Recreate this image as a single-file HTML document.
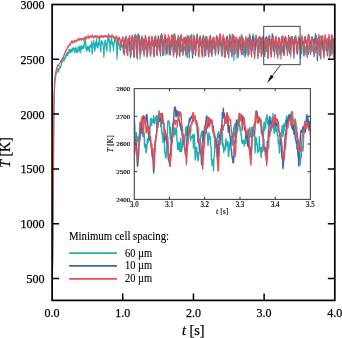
<!DOCTYPE html><html><head><meta charset="utf-8"><style>
html,body{margin:0;padding:0;background:#fff;width:342px;height:338px;overflow:hidden}
svg{display:block;will-change:transform}
text{font-family:"Liberation Serif", serif;fill:#000;stroke:#000;stroke-width:0.25px}
</style></head><body>
<svg width="342" height="338" viewBox="0 0 342 338">
<defs><clipPath id="cm"><rect x="52.1" y="4.5" width="282.7" height="295.9"/></clipPath>
<clipPath id="ci"><rect x="134.3" y="88.6" width="176.09999999999997" height="110.80000000000001"/></clipPath></defs>

<g clip-path="url(#cm)" fill="none" stroke-width="1.15" stroke-linejoin="round">
<path d="M52.1,300.4 52.2,291.0 52.4,281.6 52.5,272.2 52.7,262.8 52.8,253.4 52.9,244.0 53.1,234.6 53.2,212.7 53.4,190.8 53.5,168.9 53.7,151.4 53.8,133.9 53.9,119.7 54.1,108.8 54.2,97.8 54.4,94.7 54.5,91.6 54.6,88.7 54.8,85.4 54.9,82.4 55.1,81.3 55.2,80.7 55.4,78.6 55.5,77.9 55.6,76.8 55.8,77.0 55.9,75.2 56.1,74.2 56.2,73.3 56.3,74.2 56.5,73.7 56.6,73.0 56.8,72.6 56.9,71.6 57.0,70.9 57.2,70.0 57.3,70.0 57.5,71.2 57.6,70.3 57.8,68.3 57.9,69.8 58.0,71.5 58.2,72.2 58.3,70.9 58.5,70.0 58.6,70.9 58.7,69.1 58.9,69.0 59.0,69.1 59.2,68.9 59.3,68.3 59.5,68.8 59.6,68.8 59.7,67.4 59.9,66.2 60.0,67.1 60.2,67.1 60.3,67.2 60.4,66.8 60.6,67.8 60.7,66.4 60.9,65.3 61.0,65.8 61.1,66.0 61.3,64.8 61.4,64.7 61.6,61.5 61.7,60.7 61.9,61.6 62.0,62.4 62.1,62.0 62.3,62.3 62.4,61.7 62.6,60.8 62.7,61.5 62.8,60.8 63.0,61.0 63.1,60.3 63.3,59.5 63.4,59.4 63.5,58.5 63.7,57.2 63.8,58.8 64.0,59.2 64.1,61.1 64.3,58.7 64.4,59.2 64.5,58.3 64.7,58.2 64.8,59.1 65.0,58.5 65.1,58.0 65.2,57.4 65.4,55.7 65.5,56.0 65.7,57.9 65.8,56.9 66.0,56.1 66.1,56.4 66.2,54.2 66.4,54.4 66.5,54.5 66.7,55.1 66.8,55.4 66.9,53.5 67.1,53.7 67.2,52.2 67.4,55.5 67.5,54.8 67.6,53.7 67.8,55.6 67.9,53.8 68.1,53.2 68.2,52.8 68.4,53.7 68.5,52.2 68.6,53.4 68.8,51.5 68.9,50.4 69.1,52.0 69.2,49.1 69.3,51.1 69.5,49.8 69.6,51.3 69.8,52.4 69.9,52.9 70.1,51.2 70.2,51.9 70.3,52.4 70.5,50.7 70.6,49.5 70.8,51.4 70.9,51.0 71.0,52.2 71.2,51.2 71.3,51.8 71.5,50.5 71.6,51.5 71.7,50.4 71.9,49.0 72.0,48.8 72.2,49.1 72.3,49.4 72.5,51.1 72.6,49.9 72.7,49.9 72.9,48.0 73.0,48.0 73.2,48.2 73.3,47.9 73.4,49.6 73.6,48.6 73.7,47.3 73.9,48.6 74.0,49.7 74.2,48.9 74.3,50.6 74.4,50.2 74.6,50.9 74.7,52.8 74.9,51.3 75.0,52.8 75.1,48.3 75.3,50.6 75.4,48.7 75.6,47.9 75.7,48.0 75.8,47.4 76.0,47.2 76.1,47.6 76.3,48.3 76.4,50.1 76.6,52.3 76.7,51.7 76.8,49.8 77.0,50.8 77.1,51.9 77.3,49.9 77.4,50.4 77.5,51.8 77.7,52.2 77.8,52.7 78.0,50.6 78.1,49.3 78.2,46.8 78.4,46.9 78.5,47.0 78.7,48.0 78.8,48.5 79.0,48.5 79.1,47.6 79.2,48.4 79.4,51.1 79.5,50.0 79.7,45.9 79.8,46.0 79.9,49.0 80.1,46.2 80.2,46.8 80.4,46.3 80.5,50.0 80.7,49.8 80.8,52.9 80.9,49.4 81.1,49.5 81.2,48.3 81.4,49.1 81.5,48.4 81.6,48.8 81.8,45.8 81.9,45.6 82.1,46.4 82.2,49.1 82.3,47.8 82.5,48.0 82.6,46.9 82.8,46.3 82.9,46.0 83.1,48.4 83.2,45.7 83.3,47.9 83.5,48.5 83.6,45.5 83.8,45.9 83.9,45.8 84.0,47.5 84.2,42.9 84.3,40.9 84.5,41.4 84.6,44.8 84.8,41.7 84.9,44.1 85.0,40.6 85.2,41.4 85.3,41.0 85.5,39.2 85.6,41.9 85.7,43.0 85.9,48.6 86.0,45.4 86.2,49.2 86.3,45.6 86.4,49.5 86.6,51.5 86.7,51.0 86.9,49.1 87.0,47.9 87.2,47.0 87.3,46.6 87.4,46.6 87.6,48.5 87.7,48.2 87.9,50.0 88.0,48.0 88.1,47.3 88.3,47.4 88.4,47.1 88.6,48.1 88.7,48.9 88.9,46.1 89.0,47.8 89.1,48.0 89.3,51.6 89.4,50.8 89.6,52.0 89.7,47.2 89.8,46.9 90.0,45.7 90.1,45.6 90.3,45.5 90.4,47.3 90.5,45.1 90.7,46.7 90.8,45.3 91.0,45.6 91.1,45.5 91.3,45.1 91.4,45.4 91.5,41.4 91.7,45.1 91.8,47.1 92.0,52.5 92.1,52.7 92.2,54.3 92.4,52.7 92.5,50.5 92.7,45.8 92.8,44.2 93.0,43.8 93.1,44.5 93.2,41.8 93.4,44.3 93.5,43.5 93.7,41.9 93.8,39.8 93.9,43.4 94.1,46.9 94.2,48.4 94.4,43.5 94.5,47.0 94.6,49.5 94.8,51.1 94.9,49.3 95.1,47.8 95.2,49.2 95.4,46.5 95.5,42.7 95.6,45.9 95.8,42.7 95.9,45.9 96.1,42.1 96.2,40.1 96.3,43.0 96.5,39.0 96.6,39.5 96.8,39.1 96.9,42.8 97.0,46.9 97.2,46.5 97.3,45.0 97.5,46.0 97.6,47.8 97.8,47.0 97.9,46.7 98.0,48.0 98.2,44.4 98.3,42.4 98.5,45.1 98.6,44.6 98.7,43.8 98.9,43.1 99.0,42.9 99.2,41.0 99.3,38.9 99.5,37.9 99.6,39.1 99.7,43.0 99.9,45.2 100.0,43.6 100.2,45.9 100.3,49.2 100.4,50.0 100.6,49.0 100.7,50.6 100.9,51.9 101.0,44.9 101.1,46.8 101.3,41.4 101.4,40.5 101.6,42.2 101.7,42.2 101.9,41.5 102.0,43.7 102.1,43.6 102.3,42.0 102.4,43.0 102.6,41.7 102.7,42.2 102.8,42.4 103.0,45.8 103.1,43.9 103.3,48.0 103.4,47.9 103.6,53.4 103.7,49.6 103.8,57.1 104.0,54.9 104.1,55.5 104.3,48.8 104.4,48.0 104.5,46.5 104.7,44.8 104.8,40.8 105.0,43.9 105.1,43.3 105.2,43.6 105.4,40.3 105.5,45.3 105.7,43.1 105.8,46.1 106.0,42.5 106.1,44.2 106.2,45.1 106.4,47.1 106.5,49.1 106.7,50.6 106.8,51.5 106.9,49.4 107.1,49.6 107.2,46.2 107.4,42.4 107.5,42.1 107.7,39.1 107.8,37.2 107.9,42.1 108.1,37.8 108.2,38.1 108.4,37.6 108.5,36.5 108.6,35.4 108.8,33.5 108.9,38.8 109.1,39.7 109.2,41.9 109.3,39.4 109.5,40.8 109.6,43.1 109.8,45.4 109.9,49.5 110.1,52.3 110.2,51.5 110.3,47.9 110.5,44.2 110.6,43.4 110.8,41.7 110.9,42.2 111.0,40.7 111.2,39.9 111.3,35.9 111.5,37.3 111.6,35.2 111.7,37.9 111.9,41.3 112.0,44.6 112.2,43.1 112.3,43.1 112.5,42.2 112.6,42.3 112.7,42.3 112.9,45.4 113.0,46.6 113.2,47.3 113.3,48.5 113.4,47.8 113.6,51.0 113.7,47.8 113.9,46.0 114.0,43.9 114.2,42.5 114.3,41.4 114.4,43.2 114.6,39.5 114.7,38.2 114.9,38.2 115.0,36.9 115.1,40.9 115.3,40.7 115.4,38.7 115.6,38.5 115.7,39.2 115.8,42.3 116.0,42.7 116.1,39.6 116.3,40.9 116.4,43.7 116.6,49.0 116.7,53.2 116.8,52.9 117.0,59.3 117.1,54.8 117.3,55.7 117.4,49.0 117.5,47.1 117.7,41.2 117.8,44.6 118.0,40.1 118.1,40.5 118.3,38.6 118.4,40.3 118.5,39.9 118.7,42.6 118.8,41.1 119.0,46.1 119.1,45.9 119.2,43.5 119.4,46.0 119.5,45.4 119.7,45.5 119.8,49.5 119.9,47.7 120.1,45.4 120.2,46.1 120.4,49.4 120.5,49.5 120.7,50.5 120.8,47.3 120.9,46.9 121.1,46.1 121.2,46.9 121.4,43.3 121.5,45.7 121.6,46.7 121.8,46.9 121.9,46.8 122.1,45.5 122.2,44.2 122.4,45.4 122.5,45.4 122.6,46.9 122.8,47.3 122.9,47.0 123.1,49.8 123.2,51.7 123.3,51.4 123.5,53.0 123.6,53.3 123.8,49.4 123.9,49.7 124.0,51.2 124.2,48.4 124.3,47.2 124.5,46.0 124.6,41.9 124.8,44.2 124.9,41.9 125.0,41.1 125.2,45.2 125.3,47.1 125.5,48.3 125.6,47.0 125.7,46.7 125.9,45.0 126.0,46.4 126.2,45.5 126.3,46.5 126.5,46.4 126.6,50.1 126.7,49.4 126.9,52.6 127.0,52.5 127.2,53.6 127.3,53.9 127.4,50.3 127.6,46.3 127.7,42.6 127.9,42.1 128.0,39.0 128.1,37.8 128.3,39.5 128.4,43.4 128.6,41.4 128.7,40.1 128.9,40.8 129.0,40.3 129.1,39.1 129.3,40.4 129.4,40.1 129.6,41.4 129.7,50.5 129.8,46.8 130.0,47.2 130.1,50.3 130.3,53.9 130.4,56.9 130.5,55.3 130.7,53.8 130.8,51.0 131.0,50.9 131.1,44.7 131.3,47.5 131.4,44.5 131.5,46.0 131.7,48.7 131.8,47.0 132.0,43.7 132.1,47.0 132.2,48.8 132.4,49.6 132.5,43.8 132.7,46.9 132.8,45.4 133.0,45.5 133.1,47.4 133.2,46.6 133.4,50.0 133.5,53.0 133.7,56.5 133.8,54.4 133.9,48.5 134.1,43.4 134.2,44.9 134.4,44.3 134.5,39.5 134.6,37.5 134.8,36.4 134.9,35.7 135.1,34.1 135.2,36.1 135.4,35.9 135.5,34.9 135.6,38.4 135.8,41.3 135.9,40.8 136.1,43.5 136.2,46.7 136.3,49.2 136.5,50.6 136.6,52.6 136.8,57.8 136.9,51.3 137.1,46.6 137.2,41.4 137.3,43.6 137.5,37.8 137.6,35.7 137.8,36.4 137.9,34.0 138.0,33.7 138.2,33.5 138.3,35.5 138.5,34.4 138.6,39.7 138.7,39.3 138.9,40.1 139.0,39.1 139.2,40.0 139.3,41.7 139.5,40.2 139.6,43.7 139.7,49.1 139.9,55.6 140.0,58.9 140.2,58.4 140.3,52.9 140.4,49.9 140.6,48.9 140.7,44.4 140.9,41.0 141.0,39.9 141.2,39.1 141.3,38.7 141.4,39.9 141.6,43.8 141.7,45.6 141.9,44.0 142.0,42.6 142.1,41.3 142.3,40.8 142.4,43.1 142.6,46.9 142.7,50.5 142.8,46.3 143.0,51.0 143.1,47.0 143.3,49.9 143.4,52.1 143.6,48.6 143.7,48.9 143.8,44.6 144.0,46.2 144.1,44.8 144.3,47.2 144.4,39.7 144.5,43.8 144.7,44.0 144.8,42.5 145.0,46.9 145.1,46.5 145.2,46.7 145.4,44.0 145.5,47.7 145.7,49.8 145.8,48.9 146.0,47.4 146.1,50.2 146.2,47.7 146.4,48.7 146.5,49.0 146.7,51.2 146.8,55.7 146.9,55.5 147.1,57.6 147.2,52.6 147.4,50.6 147.5,48.2 147.7,47.5 147.8,43.6 147.9,45.5 148.1,43.3 148.2,41.0 148.4,37.0 148.5,38.4 148.6,41.1 148.8,39.2 148.9,43.0 149.1,41.4 149.2,38.3 149.3,37.3 149.5,41.1 149.6,44.2 149.8,48.2 149.9,49.0 150.1,53.3 150.2,52.2 150.3,54.3 150.5,53.0 150.6,52.6 150.8,47.9 150.9,44.0 151.0,43.8 151.2,41.3 151.3,41.2 151.5,41.2 151.6,39.1 151.8,41.5 151.9,39.1 152.0,44.4 152.2,43.3 152.3,43.7 152.5,45.8 152.6,43.4 152.7,43.8 152.9,44.9 153.0,44.4 153.2,49.6 153.3,53.8 153.4,48.9 153.6,48.0 153.7,47.2 153.9,41.8 154.0,40.1 154.2,39.7 154.3,42.0 154.4,43.3 154.6,43.2 154.7,37.0 154.9,38.3 155.0,42.0 155.1,46.6 155.3,46.7 155.4,46.0 155.6,45.5 155.7,40.8 155.9,40.4 156.0,45.6 156.1,46.2 156.3,41.3 156.4,45.8 156.6,47.9 156.7,44.8 156.8,40.1 157.0,43.3 157.1,40.4 157.3,40.2 157.4,42.9 157.5,41.3 157.7,41.7 157.8,44.0 158.0,44.0 158.1,41.8 158.3,43.5 158.4,45.1 158.5,46.6 158.7,43.6 158.8,44.4 159.0,44.5 159.1,47.7 159.2,48.6 159.4,50.5 159.5,48.3 159.7,49.2 159.8,42.6 160.0,42.7 160.1,42.6 160.2,42.1 160.4,35.3 160.5,38.7 160.7,40.5 160.8,37.4 160.9,37.4 161.1,38.3 161.2,40.4 161.4,39.2 161.5,39.5 161.6,41.1 161.8,41.7 161.9,43.0 162.1,45.1 162.2,45.8 162.4,48.4 162.5,52.8 162.6,55.4 162.8,48.8 162.9,51.1 163.1,51.1 163.2,49.7 163.3,46.5 163.5,42.4 163.6,39.6 163.8,44.1 163.9,39.9 164.0,40.4 164.2,40.0 164.3,40.4 164.5,36.9 164.6,40.0 164.8,39.9 164.9,39.8 165.0,38.6 165.2,43.7 165.3,45.0 165.5,45.3 165.6,50.2 165.7,49.2 165.9,53.1 166.0,55.1 166.2,49.3 166.3,53.4 166.5,51.1 166.6,49.1 166.7,48.5 166.9,44.2 167.0,46.5 167.2,39.5 167.3,44.1 167.4,41.6 167.6,42.6 167.7,42.2 167.9,45.6 168.0,40.4 168.1,41.3 168.3,45.3 168.4,44.0 168.6,48.1 168.7,48.1 168.9,51.5 169.0,49.0 169.1,54.5 169.3,53.0 169.4,54.2 169.6,51.7 169.7,46.9 169.8,46.7 170.0,43.8 170.1,44.6 170.3,41.0 170.4,47.8 170.6,45.4 170.7,44.0 170.8,48.9 171.0,43.0 171.1,42.5 171.3,42.8 171.4,41.1 171.5,40.4 171.7,46.3 171.8,45.6 172.0,44.3 172.1,46.2 172.2,40.5 172.4,41.3 172.5,41.1 172.7,38.8 172.8,37.9 173.0,34.8 173.1,34.0 173.2,37.0 173.4,35.6 173.5,37.5 173.7,36.3 173.8,38.9 173.9,39.0 174.1,39.7 174.2,43.3 174.4,40.6 174.5,42.9 174.7,46.3 174.8,50.4 174.9,52.1 175.1,52.1 175.2,51.9 175.4,50.0 175.5,48.8 175.6,44.4 175.8,46.2 175.9,43.2 176.1,44.6 176.2,47.9 176.3,43.9 176.5,41.5 176.6,41.0 176.8,40.6 176.9,45.5 177.1,49.3 177.2,50.4 177.3,49.4 177.5,50.7 177.6,51.4 177.8,54.4 177.9,53.0 178.0,49.8 178.2,46.9 178.3,46.7 178.5,44.0 178.6,46.2 178.7,40.7 178.9,43.5 179.0,40.0 179.2,40.7 179.3,39.7 179.5,39.4 179.6,38.8 179.7,37.3 179.9,42.0 180.0,43.2 180.2,45.0 180.3,47.3 180.4,45.5 180.6,46.7 180.7,47.8 180.9,52.1 181.0,49.6 181.2,48.6 181.3,46.4 181.4,45.6 181.6,51.4 181.7,46.2 181.9,45.6 182.0,44.6 182.1,42.8 182.3,47.5 182.4,44.4 182.6,41.8 182.7,40.3 182.8,39.6 183.0,39.5 183.1,44.5 183.3,41.8 183.4,43.6 183.6,45.7 183.7,48.1 183.8,45.7 184.0,47.1 184.1,47.7 184.3,50.5 184.4,48.4 184.5,50.4 184.7,49.7 184.8,47.5 185.0,50.1 185.1,46.1 185.3,45.0 185.4,46.3 185.5,46.5 185.7,37.0 185.8,39.1 186.0,40.9 186.1,41.1 186.2,41.0 186.4,43.4 186.5,42.5 186.7,38.8 186.8,45.6 186.9,48.0 187.1,55.1 187.2,54.3 187.4,57.8 187.5,49.9 187.7,45.6 187.8,42.9 187.9,40.6 188.1,41.5 188.2,37.8 188.4,38.5 188.5,35.7 188.6,38.4 188.8,38.5 188.9,37.5 189.1,42.0 189.2,41.1 189.4,45.3 189.5,41.8 189.6,44.8 189.8,47.1 189.9,45.3 190.1,51.4 190.2,47.7 190.3,49.5 190.5,44.5 190.6,39.8 190.8,39.7 190.9,40.1 191.0,40.4 191.2,39.2 191.3,36.1 191.5,35.4 191.6,36.4 191.8,34.1 191.9,37.0 192.0,38.9 192.2,42.0 192.3,44.0 192.5,45.5 192.6,43.8 192.7,44.4 192.9,48.7 193.0,54.4 193.2,54.4 193.3,51.2 193.4,50.0 193.6,50.3 193.7,44.0 193.9,43.5 194.0,45.2 194.2,42.7 194.3,47.2 194.4,41.9 194.6,42.6 194.7,47.1 194.9,47.0 195.0,48.8 195.1,47.3 195.3,46.1 195.4,48.9 195.6,50.4 195.7,51.5 195.9,47.2 196.0,48.5 196.1,44.3 196.3,42.8 196.4,39.7 196.6,36.0 196.7,38.7 196.8,36.8 197.0,35.8 197.1,33.5 197.3,34.5 197.4,37.8 197.5,36.7 197.7,38.7 197.8,42.2 198.0,42.4 198.1,41.7 198.3,42.4 198.4,44.0 198.5,44.7 198.7,45.7 198.8,46.4 199.0,45.3 199.1,44.5 199.2,39.9 199.4,41.1 199.5,42.8 199.7,41.6 199.8,41.6 200.0,40.6 200.1,45.5 200.2,39.8 200.4,40.8 200.5,37.0 200.7,38.7 200.8,45.2 200.9,46.3 201.1,46.0 201.2,43.3 201.4,50.5 201.5,51.9 201.6,49.5 201.8,49.9 201.9,46.3 202.1,40.8 202.2,41.8 202.4,41.5 202.5,37.7 202.6,36.5 202.8,38.5 202.9,37.6 203.1,39.5 203.2,40.0 203.3,42.9 203.5,44.4 203.6,46.4 203.8,47.7 203.9,46.8 204.1,48.2 204.2,56.1 204.3,56.6 204.5,52.1 204.6,51.2 204.8,46.4 204.9,43.3 205.0,45.4 205.2,47.0 205.3,44.1 205.5,42.3 205.6,36.3 205.7,40.8 205.9,42.1 206.0,44.1 206.2,45.5 206.3,47.6 206.5,44.2 206.6,45.6 206.7,44.4 206.9,41.0 207.0,42.7 207.2,49.9 207.3,46.7 207.4,44.3 207.6,47.3 207.7,43.5 207.9,44.1 208.0,43.1 208.2,41.7 208.3,43.6 208.4,45.1 208.6,46.3 208.7,42.9 208.9,39.5 209.0,40.3 209.1,43.9 209.3,42.8 209.4,46.7 209.6,43.7 209.7,46.9 209.8,48.4 210.0,49.5 210.1,53.0 210.3,50.6 210.4,44.7 210.6,43.4 210.7,43.0 210.8,40.5 211.0,40.6 211.1,40.6 211.3,41.8 211.4,43.7 211.5,42.3 211.7,45.4 211.8,40.6 212.0,41.9 212.1,40.5 212.2,42.2 212.4,43.0 212.5,42.4 212.7,43.6 212.8,49.8 213.0,47.4 213.1,46.6 213.2,49.2 213.4,48.3 213.5,44.4 213.7,45.1 213.8,39.2 213.9,41.9 214.1,42.1 214.2,42.5 214.4,42.8 214.5,43.9 214.7,40.8 214.8,41.8 214.9,45.3 215.1,45.4 215.2,47.4 215.4,50.7 215.5,52.0 215.6,55.2 215.8,52.7 215.9,48.9 216.1,44.1 216.2,44.4 216.3,43.5 216.5,44.3 216.6,41.7 216.8,40.4 216.9,44.7 217.1,42.2 217.2,44.3 217.3,43.0 217.5,44.3 217.6,44.7 217.8,45.4 217.9,48.8 218.0,51.8 218.2,52.6 218.3,53.0 218.5,54.6 218.6,47.4 218.8,46.9 218.9,46.9 219.0,42.2 219.2,41.9 219.3,43.1 219.5,41.9 219.6,42.7 219.7,43.9 219.9,40.5 220.0,42.8 220.2,43.9 220.3,45.7 220.4,39.0 220.6,42.3 220.7,41.4 220.9,44.5 221.0,44.5 221.2,48.7 221.3,53.2 221.4,48.6 221.6,47.7 221.7,46.0 221.9,47.2 222.0,43.0 222.1,44.0 222.3,38.5 222.4,40.3 222.6,38.0 222.7,37.4 222.9,39.0 223.0,41.9 223.1,43.4 223.3,46.0 223.4,42.4 223.6,42.8 223.7,46.7 223.8,48.8 224.0,50.9 224.1,48.7 224.3,55.5 224.4,57.3 224.5,55.4 224.7,53.1 224.8,51.0 225.0,48.4 225.1,44.8 225.3,46.8 225.4,45.5 225.5,41.7 225.7,46.5 225.8,46.2 226.0,46.7 226.1,47.9 226.2,45.4 226.4,44.9 226.5,49.8 226.7,50.3 226.8,48.2 226.9,50.5 227.1,49.5 227.2,45.6 227.4,48.1 227.5,49.9 227.7,53.5 227.8,47.8 227.9,46.8 228.1,46.0 228.2,43.1 228.4,44.9 228.5,43.6 228.6,40.7 228.8,40.2 228.9,42.1 229.1,42.6 229.2,43.2 229.4,44.0 229.5,41.0 229.6,47.2 229.8,44.3 229.9,43.8 230.1,46.4 230.2,47.3 230.3,47.2 230.5,51.9 230.6,47.7 230.8,46.4 230.9,46.3 231.0,44.4 231.2,45.7 231.3,42.6 231.5,43.7 231.6,43.7 231.8,41.2 231.9,37.0 232.0,38.3 232.2,34.1 232.3,35.7 232.5,36.2 232.6,43.3 232.7,39.5 232.9,37.8 233.0,43.9 233.2,43.2 233.3,44.1 233.5,48.0 233.6,50.7 233.7,55.1 233.9,60.6 234.0,56.8 234.2,54.2 234.3,51.4 234.4,45.3 234.6,47.7 234.7,45.3 234.9,44.5 235.0,40.1 235.1,40.5 235.3,42.8 235.4,41.5 235.6,40.0 235.7,41.3 235.9,43.6 236.0,42.4 236.1,43.4 236.3,45.5 236.4,45.4 236.6,49.2 236.7,46.0 236.8,52.7 237.0,58.1 237.1,58.3 237.3,54.6 237.4,49.2 237.6,49.5 237.7,46.4 237.8,48.2 238.0,45.7 238.1,40.9 238.3,43.1 238.4,39.6 238.5,43.0 238.7,43.3 238.8,41.6 239.0,45.8 239.1,43.8 239.2,45.8 239.4,47.1 239.5,46.5 239.7,46.5 239.8,48.4 240.0,46.5 240.1,49.1 240.2,49.5 240.4,49.0 240.5,49.6 240.7,43.6 240.8,43.6 240.9,40.7 241.1,40.0 241.2,35.2 241.4,34.7 241.5,35.6 241.7,36.1 241.8,37.4 241.9,40.8 242.1,36.9 242.2,35.0 242.4,42.9 242.5,42.2 242.6,44.2 242.8,51.5 242.9,53.5 243.1,55.0 243.2,55.2 243.3,53.2 243.5,50.9 243.6,46.5 243.8,43.7 243.9,40.5 244.1,47.4 244.2,45.6 244.3,44.1 244.5,45.5 244.6,46.7 244.8,43.3 244.9,45.3 245.0,46.7 245.2,45.8 245.3,47.9 245.5,43.9 245.6,46.3 245.7,54.9 245.9,54.8 246.0,52.4 246.2,53.2 246.3,52.4 246.5,50.5 246.6,43.5 246.7,43.2 246.9,42.6 247.0,43.1 247.2,42.4 247.3,43.1 247.4,40.9 247.6,44.1 247.7,41.5 247.9,41.6 248.0,38.8 248.2,37.0 248.3,40.4 248.4,43.1 248.6,45.3 248.7,49.0 248.9,50.6 249.0,51.6 249.1,54.3 249.3,47.4 249.4,47.5 249.6,43.7 249.7,44.6 249.8,46.7 250.0,41.1 250.1,39.7 250.3,38.8 250.4,40.6 250.6,41.3 250.7,40.8 250.8,41.1 251.0,39.2 251.1,42.2 251.3,41.8 251.4,44.2 251.5,40.5 251.7,41.9 251.8,45.0 252.0,50.4 252.1,49.2 252.3,50.4 252.4,49.7 252.5,47.3 252.7,42.9 252.8,38.0 253.0,33.8 253.1,34.1 253.2,36.4 253.4,45.4 253.5,40.5 253.7,36.7 253.8,35.9 253.9,35.9 254.1,40.1 254.2,39.5 254.4,41.1 254.5,40.3 254.7,43.2 254.8,43.8 254.9,39.4 255.1,44.9 255.2,47.8 255.4,50.2 255.5,49.4 255.6,50.3 255.8,46.4 255.9,42.6 256.1,42.9 256.2,39.3 256.4,41.2 256.5,39.2 256.6,40.8 256.8,40.3 256.9,42.8 257.1,39.9 257.2,40.3 257.3,38.7 257.5,40.9 257.6,39.0 257.8,41.7 257.9,41.2 258.0,39.8 258.2,41.5 258.3,41.1 258.5,45.0 258.6,48.3 258.8,49.2 258.9,49.7 259.0,51.8 259.2,52.7 259.3,49.4 259.5,47.1 259.6,44.7 259.7,42.3 259.9,45.0 260.0,45.2 260.2,42.2 260.3,42.7 260.4,42.5 260.6,40.9 260.7,43.5 260.9,37.3 261.0,37.4 261.2,43.9 261.3,38.4 261.4,45.3 261.6,45.4 261.7,47.0 261.9,47.8 262.0,45.5 262.1,48.3 262.3,50.0 262.4,50.7 262.6,50.9 262.7,50.7 262.9,53.7 263.0,52.5 263.1,47.3 263.3,46.2 263.4,45.4 263.6,45.5 263.7,43.3 263.8,40.2 264.0,38.9 264.1,38.5 264.3,44.4 264.4,47.1 264.5,43.9 264.7,47.6 264.8,45.5 265.0,45.6 265.1,47.9 265.3,44.0 265.4,43.9 265.5,39.6 265.7,44.0 265.8,45.3 266.0,45.5 266.1,44.3 266.2,49.7 266.4,48.4 266.5,51.5 266.7,49.5 266.8,47.3 267.0,46.9 267.1,42.3 267.2,44.3 267.4,38.4 267.5,38.3 267.7,38.6 267.8,39.1 267.9,39.2 268.1,39.4 268.2,40.1 268.4,38.2 268.5,38.3 268.6,42.2 268.8,39.4 268.9,37.2 269.1,35.1 269.2,38.3 269.4,38.7 269.5,39.3 269.6,43.9 269.8,45.5 269.9,47.7 270.1,44.6 270.2,51.0 270.3,52.5 270.5,54.0 270.6,48.3 270.8,42.9 270.9,39.2 271.1,39.2 271.2,41.2 271.3,46.2 271.5,47.0 271.6,46.1 271.8,45.8 271.9,41.2 272.0,44.1 272.2,42.0 272.3,42.9 272.5,44.4 272.6,42.8 272.7,47.9 272.9,48.9 273.0,50.5 273.2,48.7 273.3,51.3 273.5,46.0 273.6,51.4 273.7,49.3 273.9,47.6 274.0,46.1 274.2,48.0 274.3,45.9 274.4,41.7 274.6,45.0 274.7,41.3 274.9,47.0 275.0,42.6 275.2,44.5 275.3,41.2 275.4,47.0 275.6,45.6 275.7,45.4 275.9,44.6 276.0,49.9 276.1,44.6 276.3,50.7 276.4,52.1 276.6,49.6 276.7,50.8 276.8,51.7 277.0,54.4 277.1,51.8 277.3,49.7 277.4,46.2 277.6,44.7 277.7,43.6 277.8,46.7 278.0,44.5 278.1,45.7 278.3,42.1 278.4,44.3 278.5,42.3 278.7,44.0 278.8,45.7 279.0,48.5 279.1,43.9 279.2,46.0 279.4,46.9 279.5,49.7 279.7,54.5 279.8,54.7 280.0,54.7 280.1,53.9 280.2,51.1 280.4,47.3 280.5,46.3 280.7,49.0 280.8,45.1 280.9,45.7 281.1,45.7 281.2,45.1 281.4,47.0 281.5,47.8 281.7,42.0 281.8,42.8 281.9,48.0 282.1,51.7 282.2,49.3 282.4,50.6 282.5,46.2 282.6,49.1 282.8,48.0 282.9,47.4 283.1,53.3 283.2,49.0 283.3,48.1 283.5,45.6 283.6,45.2 283.8,48.8 283.9,46.9 284.1,42.1 284.2,41.0 284.3,40.2 284.5,40.2 284.6,42.4 284.8,44.0 284.9,38.7 285.0,39.2 285.2,39.2 285.3,42.9 285.5,41.7 285.6,44.6 285.8,46.9 285.9,46.8 286.0,47.6 286.2,49.1 286.3,47.4 286.5,45.9 286.6,44.2 286.7,48.3 286.9,43.6 287.0,47.1 287.2,45.0 287.3,41.8 287.4,45.3 287.6,45.7 287.7,43.3 287.9,41.6 288.0,44.9 288.2,42.7 288.3,45.4 288.4,48.1 288.6,46.6 288.7,48.6 288.9,51.3 289.0,50.5 289.1,51.2 289.3,49.3 289.4,49.9 289.6,53.7 289.7,49.7 289.9,51.4 290.0,45.3 290.1,39.8 290.3,42.9 290.4,40.7 290.6,38.3 290.7,36.9 290.8,39.0 291.0,39.3 291.1,40.2 291.3,39.0 291.4,39.1 291.5,43.3 291.7,41.4 291.8,38.3 292.0,36.2 292.1,42.6 292.3,42.7 292.4,41.2 292.5,42.6 292.7,41.9 292.8,45.0 293.0,44.9 293.1,46.5 293.2,51.9 293.4,48.5 293.5,45.7 293.7,43.7 293.8,41.1 293.9,45.3 294.1,40.8 294.2,40.2 294.4,41.4 294.5,38.9 294.7,37.2 294.8,40.1 294.9,39.5 295.1,37.1 295.2,38.8 295.4,38.0 295.5,36.6 295.6,35.5 295.8,37.5 295.9,42.2 296.1,40.5 296.2,41.7 296.4,39.0 296.5,39.1 296.6,43.8 296.8,46.3 296.9,46.4 297.1,46.7 297.2,51.6 297.3,54.0 297.5,54.6 297.6,53.6 297.8,49.2 297.9,50.5 298.0,48.1 298.2,42.8 298.3,39.3 298.5,40.8 298.6,39.9 298.8,40.9 298.9,37.8 299.0,38.8 299.2,42.1 299.3,39.6 299.5,40.1 299.6,38.8 299.7,42.2 299.9,41.9 300.0,45.6 300.2,43.1 300.3,47.5 300.5,45.1 300.6,47.0 300.7,49.0 300.9,52.2 301.0,51.9 301.2,46.8 301.3,50.4 301.4,48.8 301.6,52.0 301.7,53.5 301.9,50.7 302.0,48.7 302.1,42.4 302.3,41.6 302.4,42.3 302.6,39.6 302.7,41.6 302.9,43.3 303.0,42.2 303.1,43.5 303.3,42.6 303.4,44.0 303.6,44.5 303.7,41.3 303.8,42.0 304.0,46.9 304.1,46.7 304.3,49.1 304.4,48.3 304.6,46.9 304.7,51.2 304.8,53.4 305.0,55.0 305.1,53.5 305.3,52.6 305.4,51.9 305.5,47.1 305.7,47.0 305.8,46.1 306.0,48.1 306.1,47.1 306.2,47.3 306.4,46.2 306.5,47.5 306.7,44.5 306.8,43.9 307.0,43.5 307.1,45.8 307.2,45.8 307.4,43.2 307.5,45.7 307.7,45.0 307.8,46.7 307.9,46.1 308.1,47.7 308.2,49.9 308.4,52.3 308.5,54.4 308.7,49.4 308.8,50.4 308.9,45.9 309.1,49.0 309.2,47.7 309.4,44.8 309.5,46.0 309.6,45.6 309.8,45.7 309.9,42.1 310.1,45.2 310.2,44.5 310.3,46.0 310.5,44.7 310.6,46.6 310.8,39.9 310.9,42.1 311.1,42.2 311.2,47.1 311.3,49.1 311.5,47.5 311.6,44.2 311.8,47.3 311.9,49.1 312.0,51.1 312.2,48.8 312.3,51.3 312.5,49.9 312.6,46.3 312.7,49.3 312.9,48.7 313.0,47.7 313.2,41.8 313.3,39.6 313.5,39.6 313.6,42.5 313.7,44.2 313.9,44.5 314.0,40.4 314.2,40.5 314.3,38.6 314.4,41.8 314.6,38.0 314.7,40.0 314.9,42.4 315.0,43.1 315.2,45.1 315.3,46.1 315.4,46.3 315.6,50.2 315.7,53.0 315.9,52.1 316.0,50.7 316.1,48.6 316.3,47.5 316.4,48.0 316.6,49.8 316.7,45.7 316.8,46.3 317.0,37.8 317.1,38.7 317.3,41.5 317.4,43.7 317.6,45.6 317.7,44.5 317.8,43.2 318.0,44.1 318.1,42.5 318.3,45.5 318.4,44.7 318.5,43.9 318.7,45.8 318.8,41.9 319.0,49.4 319.1,52.8 319.3,54.1 319.4,55.4 319.5,53.0 319.7,43.1 319.8,42.9 320.0,41.7 320.1,42.8 320.2,45.0 320.4,42.5 320.5,42.7 320.7,40.7 320.8,35.6 320.9,41.5 321.1,39.8 321.2,38.9 321.4,43.7 321.5,42.7 321.7,40.7 321.8,42.0 321.9,46.7 322.1,43.8 322.2,46.4 322.4,44.7 322.5,45.2 322.6,48.7 322.8,47.1 322.9,50.8 323.1,48.6 323.2,49.2 323.4,45.9 323.5,42.7 323.6,42.8 323.8,40.3 323.9,42.0 324.1,42.3 324.2,43.1 324.3,44.4 324.5,42.8 324.6,42.4 324.8,43.0 324.9,42.9 325.0,43.9 325.2,43.1 325.3,46.4 325.5,47.9 325.6,48.1 325.8,49.0 325.9,50.4 326.0,47.3 326.2,47.0 326.3,49.2 326.5,50.5 326.6,49.1 326.7,46.9 326.9,43.8 327.0,45.6 327.2,42.8 327.3,40.2 327.4,40.6 327.6,38.6 327.7,39.0 327.9,40.3 328.0,43.0 328.2,46.4 328.3,40.7 328.4,40.6 328.6,42.6 328.7,42.3 328.9,46.6 329.0,49.6 329.1,52.0 329.3,49.9 329.4,58.8 329.6,54.1 329.7,50.9 329.9,45.7 330.0,42.6 330.1,46.1 330.3,39.9 330.4,43.2 330.6,45.4 330.7,41.9 330.8,40.8 331.0,41.8 331.1,47.8 331.3,50.5 331.4,47.6 331.5,48.3 331.7,46.4 331.8,43.7 332.0,45.1 332.1,46.5 332.3,43.4 332.4,49.6 332.5,53.7 332.7,52.7 332.8,48.5 333.0,44.9 333.1,43.6 333.2,42.3 333.4,39.2 333.5,40.9 333.7,40.9 333.8,41.3 334.0,38.7 334.1,38.2 334.2,38.2 334.4,38.9 334.5,36.1 334.7,39.3 334.8,40.9" stroke="#1eb1b1"/>
<path d="M122.8,36.3 122.9,37.6 123.1,39.6 123.2,41.6 123.3,41.6 123.5,43.7 123.6,44.3 123.8,48.2 123.9,53.5 124.0,53.9 124.2,49.8 124.3,44.2 124.5,43.4 124.6,43.0 124.8,39.8 124.9,40.6 125.0,39.9 125.2,39.0 125.3,37.3 125.5,39.8 125.6,40.7 125.7,37.4 125.9,36.9 126.0,37.5 126.2,39.5 126.3,40.6 126.5,44.1 126.6,43.9 126.7,44.8 126.9,45.9 127.0,48.3 127.2,51.2 127.3,53.8 127.4,54.2 127.6,55.6 127.7,48.2 127.9,47.3 128.0,43.0 128.1,40.2 128.3,39.0 128.4,40.1 128.6,39.1 128.7,39.7 128.9,39.3 129.0,39.9 129.1,39.6 129.3,39.2 129.4,39.3 129.6,41.7 129.7,43.9 129.8,42.0 130.0,43.2 130.1,50.4 130.3,46.9 130.4,49.1 130.5,54.0 130.7,57.4 130.8,55.1 131.0,47.2 131.1,45.2 131.3,42.1 131.4,37.8 131.5,40.7 131.7,42.5 131.8,38.7 132.0,38.3 132.1,36.8 132.2,35.2 132.4,37.4 132.5,39.2 132.7,37.1 132.8,38.6 133.0,40.6 133.1,39.9 133.2,42.3 133.4,44.1 133.5,42.9 133.7,47.9 133.8,50.8 133.9,51.6 134.1,57.5 134.2,55.1 134.4,53.2 134.5,49.0 134.6,48.0 134.8,46.6 134.9,41.1 135.1,37.9 135.2,36.9 135.4,35.0 135.5,37.4 135.6,37.4 135.8,38.1 135.9,36.1 136.1,37.3 136.2,36.2 136.3,38.2 136.5,42.3 136.6,41.3 136.8,43.1 136.9,46.9 137.1,47.9 137.2,51.0 137.3,54.9 137.5,49.8 137.6,49.9 137.8,44.1 137.9,44.4 138.0,41.9 138.2,42.1 138.3,39.4 138.5,37.6 138.6,37.3 138.7,34.8 138.9,35.8 139.0,38.0 139.2,39.8 139.3,35.7 139.5,40.2 139.6,43.7 139.7,43.7 139.9,46.7 140.0,50.3 140.2,52.0 140.3,52.5 140.4,53.2 140.6,53.5 140.7,51.8 140.9,46.4 141.0,42.2 141.2,42.6 141.3,42.8 141.4,37.5 141.6,37.8 141.7,39.2 141.9,36.0 142.0,36.2 142.1,37.3 142.3,39.8 142.4,42.0 142.6,41.8 142.7,38.5 142.8,39.9 143.0,41.3 143.1,39.1 143.3,42.7 143.4,43.7 143.6,49.0 143.7,46.6 143.8,49.3 144.0,51.9 144.1,53.5 144.3,50.3 144.4,44.0 144.5,41.0 144.7,40.5 144.8,39.7 145.0,39.9 145.1,40.1 145.2,39.5 145.4,35.4 145.5,39.2 145.7,38.4 145.8,38.5 146.0,41.6 146.1,40.8 146.2,40.3 146.4,40.3 146.5,44.2 146.7,46.8 146.8,43.0 146.9,46.0 147.1,48.6 147.2,50.0 147.4,52.3 147.5,55.4 147.7,51.3 147.8,52.5 147.9,48.6 148.1,44.7 148.2,42.4 148.4,41.0 148.5,41.4 148.6,39.6 148.8,39.5 148.9,40.4 149.1,40.7 149.2,44.5 149.3,44.0 149.5,43.8 149.6,44.3 149.8,45.6 149.9,47.1 150.1,48.9 150.2,50.1 150.3,51.9 150.5,56.3 150.6,54.2 150.8,52.7 150.9,45.7 151.0,45.7 151.2,43.8 151.3,41.6 151.5,39.7 151.6,41.2 151.8,37.1 151.9,38.8 152.0,36.4 152.2,36.5 152.3,40.0 152.5,40.9 152.6,39.0 152.7,41.0 152.9,41.2 153.0,42.8 153.2,43.0 153.3,44.0 153.4,44.7 153.6,48.8 153.7,51.4 153.9,54.9 154.0,57.0 154.2,52.9 154.3,50.0 154.4,47.9 154.6,42.6 154.7,39.6 154.9,38.6 155.0,39.9 155.1,41.5 155.3,38.5 155.4,38.1 155.6,36.2 155.7,39.4 155.9,41.7 156.0,40.6 156.1,42.3 156.3,44.9 156.4,45.4 156.6,48.1 156.7,50.9 156.8,54.2 157.0,53.3 157.1,55.6 157.3,53.1 157.4,52.1 157.5,46.6 157.7,42.8 157.8,40.3 158.0,39.5 158.1,38.2 158.3,35.9 158.4,38.0 158.5,37.9 158.7,38.8 158.8,38.8 159.0,39.4 159.1,40.0 159.2,42.8 159.4,42.3 159.5,43.0 159.7,46.8 159.8,47.3 160.0,48.8 160.1,51.0 160.2,52.1 160.4,54.9 160.5,55.9 160.7,47.5 160.8,46.0 160.9,38.9 161.1,40.1 161.2,37.1 161.4,36.9 161.5,33.8 161.6,36.8 161.8,37.3 161.9,37.7 162.1,35.4 162.2,36.4 162.4,38.9 162.5,39.4 162.6,40.7 162.8,43.1 162.9,42.5 163.1,45.0 163.2,43.8 163.3,49.1 163.5,52.3 163.6,55.1 163.8,52.5 163.9,48.8 164.0,48.5 164.2,44.1 164.3,43.8 164.5,40.3 164.6,38.0 164.8,39.3 164.9,38.1 165.0,39.9 165.2,40.1 165.3,41.8 165.5,41.6 165.6,40.4 165.7,39.6 165.9,40.5 166.0,42.6 166.2,44.1 166.3,43.3 166.5,47.3 166.6,48.3 166.7,52.5 166.9,52.9 167.0,54.0 167.2,50.3 167.3,49.3 167.4,45.4 167.6,41.9 167.7,38.5 167.9,38.2 168.0,38.1 168.1,39.2 168.3,38.6 168.4,39.9 168.6,35.7 168.7,35.2 168.9,37.4 169.0,39.5 169.1,40.4 169.3,41.5 169.4,43.0 169.6,44.1 169.7,47.3 169.8,49.2 170.0,49.9 170.1,55.2 170.3,54.5 170.4,52.4 170.6,51.0 170.7,51.3 170.8,46.5 171.0,47.6 171.1,44.8 171.3,39.8 171.4,38.4 171.5,37.0 171.7,35.0 171.8,37.0 172.0,40.9 172.1,39.3 172.2,37.3 172.4,38.1 172.5,39.3 172.7,41.0 172.8,45.8 173.0,45.6 173.1,49.0 173.2,50.7 173.4,55.1 173.5,55.9 173.7,54.8 173.8,51.0 173.9,45.7 174.1,42.1 174.2,40.0 174.4,37.0 174.5,34.6 174.7,35.6 174.8,36.3 174.9,36.7 175.1,37.1 175.2,37.9 175.4,38.0 175.5,38.0 175.6,40.0 175.8,42.6 175.9,41.5 176.1,44.9 176.2,48.3 176.3,51.9 176.5,53.5 176.6,57.7 176.8,53.6 176.9,50.0 177.1,43.4 177.2,42.8 177.3,41.6 177.5,41.6 177.6,38.7 177.8,39.4 177.9,41.1 178.0,39.2 178.2,35.2 178.3,36.7 178.5,41.9 178.6,41.6 178.7,42.4 178.9,45.2 179.0,46.5 179.2,46.8 179.3,47.5 179.5,49.1 179.6,51.1 179.7,55.5 179.9,52.3 180.0,49.6 180.2,47.0 180.3,41.5 180.4,39.8 180.6,36.6 180.7,37.6 180.9,35.4 181.0,37.8 181.2,36.4 181.3,37.1 181.4,40.3 181.6,39.0 181.7,39.1 181.9,39.3 182.0,38.5 182.1,40.3 182.3,42.4 182.4,44.7 182.6,47.9 182.7,48.6 182.8,50.6 183.0,50.5 183.1,53.8 183.3,50.8 183.4,47.1 183.6,44.4 183.7,44.7 183.8,44.2 184.0,41.3 184.1,40.0 184.3,39.2 184.4,41.1 184.5,40.0 184.7,39.9 184.8,38.7 185.0,40.1 185.1,43.8 185.3,43.2 185.4,45.1 185.5,48.1 185.7,51.6 185.8,52.5 186.0,53.8 186.1,54.4 186.2,51.0 186.4,47.6 186.5,42.1 186.7,38.0 186.8,40.3 186.9,39.7 187.1,40.2 187.2,40.0 187.4,37.3 187.5,38.5 187.7,39.2 187.8,40.5 187.9,38.0 188.1,42.1 188.2,43.0 188.4,44.3 188.5,47.0 188.6,48.6 188.8,51.9 188.9,50.1 189.1,54.4 189.2,57.6 189.4,48.0 189.5,45.1 189.6,41.4 189.8,39.4 189.9,38.5 190.1,40.8 190.2,35.5 190.3,37.1 190.5,38.5 190.6,40.1 190.8,37.8 190.9,39.2 191.0,40.2 191.2,39.7 191.3,39.7 191.5,41.8 191.6,44.8 191.8,43.5 191.9,50.2 192.0,49.5 192.2,49.1 192.3,53.6 192.5,55.8 192.6,58.1 192.7,52.4 192.9,46.5 193.0,42.9 193.2,41.3 193.3,40.6 193.4,39.6 193.6,36.5 193.7,35.9 193.9,36.1 194.0,37.6 194.2,36.4 194.3,37.9 194.4,41.3 194.6,37.5 194.7,41.1 194.9,42.2 195.0,46.1 195.1,49.7 195.3,49.9 195.4,54.1 195.6,55.6 195.7,50.4 195.9,47.4 196.0,46.1 196.1,43.9 196.3,39.4 196.4,38.9 196.6,38.5 196.7,39.6 196.8,36.6 197.0,35.6 197.1,35.4 197.3,36.6 197.4,37.2 197.5,40.3 197.7,40.4 197.8,41.8 198.0,42.6 198.1,43.4 198.3,44.9 198.4,52.9 198.5,56.1 198.7,56.3 198.8,51.7 199.0,47.1 199.1,46.6 199.2,45.9 199.4,43.0 199.5,39.3 199.7,38.6 199.8,37.6 200.0,36.4 200.1,35.6 200.2,37.4 200.4,38.6 200.5,37.5 200.7,41.2 200.8,43.8 200.9,42.6 201.1,44.1 201.2,41.2 201.4,43.1 201.5,44.6 201.6,46.0 201.8,47.9 201.9,48.9 202.1,52.2 202.2,53.5 202.4,55.6 202.5,51.3 202.6,49.7 202.8,44.5 202.9,41.0 203.1,40.7 203.2,39.9 203.3,39.5 203.5,38.8 203.6,36.5 203.8,39.9 203.9,38.3 204.1,38.5 204.2,38.0 204.3,39.4 204.5,40.1 204.6,40.5 204.8,43.2 204.9,43.4 205.0,48.0 205.2,48.8 205.3,50.2 205.5,53.5 205.6,55.6 205.7,52.6 205.9,50.2 206.0,46.6 206.2,43.6 206.3,39.9 206.5,38.4 206.6,38.4 206.7,36.4 206.9,40.8 207.0,39.0 207.2,39.2 207.3,41.2 207.4,43.7 207.6,43.0 207.7,43.1 207.9,43.9 208.0,46.4 208.2,49.3 208.3,50.2 208.4,53.6 208.6,55.5 208.7,56.6 208.9,50.3 209.0,47.1 209.1,44.1 209.3,42.2 209.4,39.0 209.6,36.5 209.7,37.9 209.8,36.8 210.0,37.1 210.1,39.6 210.3,41.6 210.4,38.9 210.6,36.2 210.7,40.5 210.8,41.8 211.0,45.0 211.1,43.9 211.3,42.3 211.4,48.6 211.5,49.8 211.7,54.9 211.8,56.3 212.0,51.9 212.1,48.8 212.2,43.1 212.4,43.1 212.5,41.1 212.7,40.3 212.8,38.6 213.0,38.3 213.1,37.9 213.2,40.7 213.4,40.2 213.5,39.5 213.7,37.4 213.8,38.1 213.9,37.0 214.1,39.7 214.2,40.8 214.4,43.1 214.5,46.5 214.7,48.9 214.8,49.0 214.9,50.4 215.1,51.3 215.2,51.1 215.4,53.9 215.5,53.2 215.6,50.1 215.8,43.5 215.9,43.0 216.1,42.7 216.2,36.6 216.3,37.2 216.5,35.7 216.6,37.1 216.8,36.8 216.9,38.7 217.1,37.4 217.2,36.7 217.3,37.9 217.5,41.7 217.6,42.2 217.8,40.2 217.9,40.4 218.0,44.5 218.2,45.2 218.3,47.1 218.5,50.5 218.6,52.8 218.8,49.9 218.9,41.8 219.0,40.0 219.2,38.7 219.3,36.4 219.5,38.4 219.6,39.3 219.7,39.8 219.9,36.9 220.0,34.4 220.2,37.5 220.3,37.3 220.4,39.1 220.6,37.0 220.7,40.3 220.9,42.0 221.0,44.0 221.2,44.1 221.3,46.7 221.4,46.9 221.6,51.3 221.7,55.1 221.9,53.6 222.0,56.2 222.1,52.1 222.3,48.2 222.4,45.8 222.6,43.6 222.7,42.4 222.9,40.5 223.0,40.7 223.1,39.4 223.3,39.6 223.4,37.9 223.6,36.8 223.7,40.4 223.8,40.2 224.0,38.0 224.1,40.4 224.3,41.7 224.4,44.4 224.5,45.8 224.7,48.7 224.8,48.2 225.0,50.2 225.1,51.9 225.3,54.9 225.4,56.9 225.5,54.3 225.7,51.5 225.8,49.0 226.0,43.2 226.1,41.9 226.2,39.6 226.4,38.2 226.5,37.6 226.7,37.4 226.8,38.5 226.9,38.3 227.1,35.9 227.2,39.4 227.4,36.7 227.5,42.2 227.7,45.2 227.8,46.4 227.9,47.8 228.1,47.1 228.2,49.5 228.4,54.5 228.5,54.8 228.6,57.6 228.8,54.1 228.9,51.9 229.1,49.2 229.2,45.6 229.4,43.0 229.5,39.0 229.6,38.5 229.8,37.5 229.9,35.1 230.1,37.1 230.2,37.8 230.3,37.3 230.5,36.5 230.6,38.8 230.8,38.9 230.9,41.0 231.0,43.8 231.2,43.7 231.3,46.6 231.5,50.4 231.6,49.9 231.8,52.4 231.9,56.7 232.0,55.8 232.2,50.0 232.3,45.2 232.5,41.6 232.6,39.4 232.7,36.2 232.9,36.7 233.0,40.0 233.2,36.7 233.3,38.6 233.5,39.5 233.6,41.9 233.7,37.5 233.9,37.3 234.0,36.1 234.2,40.7 234.3,41.5 234.4,44.9 234.6,46.9 234.7,47.9 234.9,49.7 235.0,54.1 235.1,48.0 235.3,43.6 235.4,43.2 235.6,41.0 235.7,41.2 235.9,38.9 236.0,39.9 236.1,40.8 236.3,41.6 236.4,39.8 236.6,40.6 236.7,38.7 236.8,37.7 237.0,39.6 237.1,41.2 237.3,45.4 237.4,41.9 237.6,45.7 237.7,50.7 237.8,49.9 238.0,54.4 238.1,54.6 238.3,54.6 238.4,53.1 238.5,50.0 238.7,45.7 238.8,46.1 239.0,42.3 239.1,41.0 239.2,40.1 239.4,39.0 239.5,39.2 239.7,39.4 239.8,37.7 240.0,39.7 240.1,38.7 240.2,40.9 240.4,43.7 240.5,44.9 240.7,44.6 240.8,46.7 240.9,45.1 241.1,48.4 241.2,52.5 241.4,51.8 241.5,54.2 241.7,53.7 241.8,52.9 241.9,54.6 242.1,47.7 242.2,44.9 242.4,43.2 242.5,42.6 242.6,41.8 242.8,40.2 242.9,40.7 243.1,38.7 243.2,39.6 243.3,38.5 243.5,42.4 243.6,42.3 243.8,40.9 243.9,41.5 244.1,41.8 244.2,45.4 244.3,45.6 244.5,47.1 244.6,51.5 244.8,53.7 244.9,55.3 245.0,57.3 245.2,52.5 245.3,51.9 245.5,47.6 245.6,43.7 245.7,42.0 245.9,38.4 246.0,39.9 246.2,41.0 246.3,40.8 246.5,38.2 246.6,39.5 246.7,39.3 246.9,40.0 247.0,39.3 247.2,39.6 247.3,43.0 247.4,44.6 247.6,44.8 247.7,46.0 247.9,48.6 248.0,48.4 248.2,53.0 248.3,54.2 248.4,54.3 248.6,48.9 248.7,46.4 248.9,44.3 249.0,40.6 249.1,37.9 249.3,40.7 249.4,38.4 249.6,41.5 249.7,36.7 249.8,36.5 250.0,37.4 250.1,35.9 250.3,37.7 250.4,38.4 250.6,42.7 250.7,44.7 250.8,46.9 251.0,48.9 251.1,49.1 251.3,52.7 251.4,54.9 251.5,56.9 251.7,51.6 251.8,49.9 252.0,48.7 252.1,43.8 252.3,39.9 252.4,40.5 252.5,36.8 252.7,36.4 252.8,36.3 253.0,39.7 253.1,40.4 253.2,41.3 253.4,39.9 253.5,41.8 253.7,42.4 253.8,45.7 253.9,46.1 254.1,46.5 254.2,54.1 254.4,54.2 254.5,54.5 254.7,56.6 254.8,55.7 254.9,52.5 255.1,48.5 255.2,47.1 255.4,44.5 255.5,42.6 255.6,40.2 255.8,40.9 255.9,40.2 256.1,41.1 256.2,39.4 256.4,39.2 256.5,37.8 256.6,41.1 256.8,40.6 256.9,39.8 257.1,45.6 257.2,47.0 257.3,43.7 257.5,47.5 257.6,48.0 257.8,50.4 257.9,53.9 258.0,55.5 258.2,55.9 258.3,47.5 258.5,46.3 258.6,43.3 258.8,42.4 258.9,41.7 259.0,39.8 259.2,40.0 259.3,36.6 259.5,36.9 259.6,38.0 259.7,36.0 259.9,37.2 260.0,37.8 260.2,37.9 260.3,38.7 260.4,40.4 260.6,41.8 260.7,43.9 260.9,49.8 261.0,49.0 261.2,50.6 261.3,54.1 261.4,56.4 261.6,55.1 261.7,49.2 261.9,47.8 262.0,42.6 262.1,39.1 262.3,37.8 262.4,37.4 262.6,38.3 262.7,39.2 262.9,37.3 263.0,37.3 263.1,35.9 263.3,38.3 263.4,39.6 263.6,41.1 263.7,41.9 263.8,43.6 264.0,45.3 264.1,46.4 264.3,47.2 264.4,47.2 264.5,49.8 264.7,54.7 264.8,56.5 265.0,53.7 265.1,48.3 265.3,45.7 265.4,42.4 265.5,42.0 265.7,38.7 265.8,37.3 266.0,39.0 266.1,38.2 266.2,39.2 266.4,41.0 266.5,36.8 266.7,36.7 266.8,40.4 267.0,44.5 267.1,46.9 267.2,46.7 267.4,45.5 267.5,48.2 267.7,52.1 267.8,52.0 267.9,57.4 268.1,58.4 268.2,50.8 268.4,47.9 268.5,45.6 268.6,43.5 268.8,39.7 268.9,39.9 269.1,38.7 269.2,36.9 269.4,38.8 269.5,38.0 269.6,39.8 269.8,36.3 269.9,39.3 270.1,40.3 270.2,43.8 270.3,44.7 270.5,46.3 270.6,46.6 270.8,46.7 270.9,53.2 271.1,54.9 271.2,56.1 271.3,56.5 271.5,48.8 271.6,46.6 271.8,44.4 271.9,40.5 272.0,38.8 272.2,33.8 272.3,33.8 272.5,37.4 272.6,37.5 272.7,36.9 272.9,35.4 273.0,39.0 273.2,39.2 273.3,41.2 273.5,41.9 273.6,41.6 273.7,45.3 273.9,46.4 274.0,48.3 274.2,49.5 274.3,50.8 274.4,52.9 274.6,50.8 274.7,45.7 274.9,42.2 275.0,41.0 275.2,39.1 275.3,39.4 275.4,38.1 275.6,37.9 275.7,37.6 275.9,38.8 276.0,39.3 276.1,38.5 276.3,38.3 276.4,39.2 276.6,40.7 276.7,41.3 276.8,44.5 277.0,46.0 277.1,48.6 277.3,50.8 277.4,52.1 277.6,53.6 277.7,56.5 277.8,52.1 278.0,43.2 278.1,45.0 278.3,44.0 278.4,40.7 278.5,38.7 278.7,37.3 278.8,41.9 279.0,39.8 279.1,38.9 279.2,39.0 279.4,40.1 279.5,39.7 279.7,38.7 279.8,41.1 280.0,41.2 280.1,44.0 280.2,45.8 280.4,48.3 280.5,47.3 280.7,50.3 280.8,53.2 280.9,54.1 281.1,48.0 281.2,44.8 281.4,44.0 281.5,42.5 281.7,42.1 281.8,36.0 281.9,36.1 282.1,38.1 282.2,36.3 282.4,38.8 282.5,40.2 282.6,37.9 282.8,37.4 282.9,41.7 283.1,43.3 283.2,42.5 283.3,45.4 283.5,48.7 283.6,50.6 283.8,53.9 283.9,55.7 284.1,55.6 284.2,48.6 284.3,48.2 284.5,44.4 284.6,38.9 284.8,41.1 284.9,40.0 285.0,39.6 285.2,36.2 285.3,38.2 285.5,36.8 285.6,37.3 285.8,37.3 285.9,39.6 286.0,39.0 286.2,40.3 286.3,43.0 286.5,44.1 286.6,45.6 286.7,43.4 286.9,49.1 287.0,47.6 287.2,50.3 287.3,49.3 287.4,53.1 287.6,51.6 287.7,46.9 287.9,45.2 288.0,42.4 288.2,42.5 288.3,42.4 288.4,38.2 288.6,35.3 288.7,35.4 288.9,39.4 289.0,40.1 289.1,38.6 289.3,38.1 289.4,39.9 289.6,41.2 289.7,43.8 289.9,45.0 290.0,45.3 290.1,49.3 290.3,51.0 290.4,49.9 290.6,53.4 290.7,52.7 290.8,47.3 291.0,47.3 291.1,44.1 291.3,39.0 291.4,40.0 291.5,40.2 291.7,39.9 291.8,41.1 292.0,39.3 292.1,40.2 292.3,38.0 292.4,39.4 292.5,41.3 292.7,40.9 292.8,38.6 293.0,41.4 293.1,42.9 293.2,43.7 293.4,45.7 293.5,48.6 293.7,48.9 293.8,54.1 293.9,58.1 294.1,54.3 294.2,51.3 294.4,45.9 294.5,45.0 294.7,41.3 294.8,39.9 294.9,39.6 295.1,39.4 295.2,36.7 295.4,37.6 295.5,37.5 295.6,40.1 295.8,42.1 295.9,42.7 296.1,41.0 296.2,44.4 296.4,44.0 296.5,46.7 296.6,48.1 296.8,50.3 296.9,51.0 297.1,53.5 297.2,52.8 297.3,49.7 297.5,44.6 297.6,42.9 297.8,43.7 297.9,41.8 298.0,42.9 298.2,41.7 298.3,43.1 298.5,42.8 298.6,39.1 298.8,36.7 298.9,39.4 299.0,40.9 299.2,39.7 299.3,40.0 299.5,42.1 299.6,42.1 299.7,45.0 299.9,48.1 300.0,47.7 300.2,47.1 300.3,53.6 300.5,56.3 300.6,58.3 300.7,53.7 300.9,49.6 301.0,49.5 301.2,44.4 301.3,40.7 301.4,37.9 301.6,38.9 301.7,37.3 301.9,38.7 302.0,37.6 302.1,39.3 302.3,39.4 302.4,40.6 302.6,40.3 302.7,42.7 302.9,43.5 303.0,41.6 303.1,46.1 303.3,47.5 303.4,48.8 303.6,50.5 303.7,52.4 303.8,55.5 304.0,56.2 304.1,47.4 304.3,46.7 304.4,42.9 304.6,38.4 304.7,40.6 304.8,38.8 305.0,36.6 305.1,36.7 305.3,38.1 305.4,41.3 305.5,39.2 305.7,39.6 305.8,40.1 306.0,41.3 306.1,41.2 306.2,40.0 306.4,44.9 306.5,45.3 306.7,47.9 306.8,50.0 307.0,50.1 307.1,54.7 307.2,56.3 307.4,50.7 307.5,46.3 307.7,44.2 307.8,44.3 307.9,37.6 308.1,37.8 308.2,34.3 308.4,35.2 308.5,35.3 308.7,36.9 308.8,35.0 308.9,39.0 309.1,37.3 309.2,36.4 309.4,40.9 309.5,40.8 309.6,40.4 309.8,44.7 309.9,45.9 310.1,47.2 310.2,49.8 310.3,51.7 310.5,52.6 310.6,53.3 310.8,49.8 310.9,43.2 311.1,42.1 311.2,41.8 311.3,42.7 311.5,41.7 311.6,40.2 311.8,36.9 311.9,36.9 312.0,37.0 312.2,36.8 312.3,37.4 312.5,37.5 312.6,38.7 312.7,38.2 312.9,39.5 313.0,39.9 313.2,41.5 313.3,43.6 313.5,45.9 313.6,46.6 313.7,49.5 313.9,54.5 314.0,56.7 314.2,52.9 314.3,50.7 314.4,46.5 314.6,45.7 314.7,38.9 314.9,38.9 315.0,38.0 315.2,38.5 315.3,36.3 315.4,33.7 315.6,36.7 315.7,36.0 315.9,36.5 316.0,36.1 316.1,38.0 316.3,35.6 316.4,39.9 316.6,42.4 316.7,44.2 316.8,50.0 317.0,49.8 317.1,55.2 317.3,58.9 317.4,60.8 317.6,55.9 317.7,50.7 317.8,45.0 318.0,41.5 318.1,41.7 318.3,39.0 318.4,38.4 318.5,38.9 318.7,37.8 318.8,36.9 319.0,36.4 319.1,37.9 319.3,37.4 319.4,39.9 319.5,41.3 319.7,44.5 319.8,46.6 320.0,46.4 320.1,46.2 320.2,48.2 320.4,52.7 320.5,57.9 320.7,57.9 320.8,51.2 320.9,49.0 321.1,45.3 321.2,42.6 321.4,41.4 321.5,39.8 321.7,43.4 321.8,42.9 321.9,41.2 322.1,44.5 322.2,41.8 322.4,41.1 322.5,42.4 322.6,39.9 322.8,45.2 322.9,44.5 323.1,47.2 323.2,48.3 323.4,47.8 323.5,50.3 323.6,50.3 323.8,54.1 323.9,57.9 324.1,53.8 324.2,48.4 324.3,44.1 324.5,43.0 324.6,42.5 324.8,38.2 324.9,38.7 325.0,37.3 325.2,38.4 325.3,41.8 325.5,40.2 325.6,40.1 325.8,41.2 325.9,42.0 326.0,40.6 326.2,39.1 326.3,41.1 326.5,43.5 326.6,46.1 326.7,48.0 326.9,46.9 327.0,50.3 327.2,52.1 327.3,49.3 327.4,52.2 327.6,55.7 327.7,52.0 327.9,49.5 328.0,49.9 328.2,43.0 328.3,44.1 328.4,41.4 328.6,40.4 328.7,38.1 328.9,38.6 329.0,39.9 329.1,42.0 329.3,43.3 329.4,43.0 329.6,43.9 329.7,44.4 329.9,42.5 330.0,42.8 330.1,44.3 330.3,47.8 330.4,53.2 330.6,54.0 330.7,53.0 330.8,55.7 331.0,54.3 331.1,46.6 331.3,42.7 331.4,39.1 331.5,38.9 331.7,37.1 331.8,39.3 332.0,41.0 332.1,41.7 332.3,39.2 332.4,38.8 332.5,39.3 332.7,40.9 332.8,38.8 333.0,42.2 333.1,43.8 333.2,44.1 333.4,44.5 333.5,48.5 333.7,53.8 333.8,56.2 334.0,58.0 334.1,54.8 334.2,51.0 334.4,49.4 334.5,46.9 334.7,45.2 334.8,42.1" stroke="#3666ae"/>
<path d="M52.1,300.4 52.2,289.4 52.4,278.5 52.5,267.5 52.7,256.6 52.8,245.6 52.9,234.6 53.1,212.7 53.2,190.8 53.4,168.9 53.5,147.0 53.7,125.1 53.8,108.2 53.9,98.0 54.1,94.4 54.2,90.7 54.4,87.1 54.5,83.5 54.6,81.7 54.8,79.9 54.9,78.0 55.1,75.9 55.2,74.5 55.4,73.1 55.5,72.3 55.6,72.1 55.8,71.7 55.9,70.9 56.1,70.7 56.2,69.6 56.3,69.3 56.5,69.2 56.6,68.7 56.8,68.0 56.9,67.1 57.0,66.9 57.2,67.6 57.3,67.0 57.5,66.1 57.6,65.3 57.8,64.9 57.9,65.1 58.0,65.5 58.2,65.1 58.3,66.0 58.5,65.6 58.6,65.9 58.7,65.3 58.9,64.9 59.0,63.9 59.2,64.0 59.3,63.9 59.5,63.4 59.6,63.4 59.7,63.5 59.9,62.7 60.0,63.1 60.2,62.1 60.3,61.6 60.4,61.8 60.6,61.9 60.7,60.7 60.9,60.5 61.0,61.3 61.1,61.5 61.3,59.8 61.4,59.8 61.6,60.1 61.7,59.3 61.9,58.8 62.0,58.9 62.1,58.2 62.3,58.4 62.4,58.9 62.6,58.3 62.7,57.9 62.8,58.4 63.0,58.2 63.1,57.0 63.3,56.8 63.4,56.9 63.5,56.3 63.7,56.4 63.8,55.2 64.0,55.0 64.1,55.4 64.3,55.0 64.4,54.6 64.5,53.6 64.7,52.9 64.8,53.5 65.0,53.1 65.1,53.3 65.2,52.4 65.4,52.4 65.5,51.2 65.7,50.5 65.8,51.4 66.0,51.4 66.1,50.1 66.2,49.8 66.4,49.9 66.5,49.6 66.7,48.8 66.8,49.0 66.9,48.9 67.1,49.3 67.2,47.9 67.4,47.5 67.5,46.6 67.6,47.4 67.8,46.7 67.9,46.9 68.1,46.5 68.2,46.1 68.4,46.4 68.5,46.4 68.6,46.9 68.8,46.4 68.9,45.9 69.1,44.8 69.2,44.4 69.3,44.8 69.5,44.7 69.6,44.3 69.8,44.9 69.9,43.5 70.1,43.4 70.2,43.7 70.3,44.3 70.5,45.3 70.6,42.9 70.8,42.8 70.9,42.8 71.0,41.8 71.2,42.1 71.3,42.4 71.5,41.1 71.6,41.5 71.7,41.8 71.9,41.5 72.0,41.1 72.2,40.7 72.3,42.8 72.5,42.4 72.6,42.7 72.7,42.8 72.9,42.1 73.0,42.1 73.2,42.3 73.3,42.0 73.4,41.6 73.6,41.5 73.7,42.0 73.9,41.8 74.0,41.4 74.2,41.1 74.3,40.3 74.4,42.1 74.6,42.1 74.7,41.0 74.9,40.7 75.0,42.3 75.1,41.4 75.3,41.2 75.4,40.8 75.6,41.1 75.7,41.0 75.8,40.7 76.0,40.9 76.1,40.8 76.3,40.6 76.4,41.4 76.6,41.1 76.7,40.6 76.8,41.4 77.0,39.6 77.1,40.3 77.3,40.5 77.4,40.2 77.5,39.7 77.7,40.0 77.8,39.8 78.0,39.6 78.1,39.0 78.2,38.8 78.4,39.8 78.5,39.9 78.7,40.3 78.8,40.4 79.0,40.4 79.1,39.8 79.2,39.8 79.4,38.7 79.5,38.9 79.7,39.6 79.8,39.0 79.9,38.3 80.1,38.6 80.2,38.6 80.4,38.8 80.5,38.5 80.7,39.5 80.8,39.5 80.9,40.0 81.1,39.7 81.2,40.3 81.4,39.2 81.5,39.5 81.6,39.9 81.8,38.9 81.9,38.7 82.1,39.1 82.2,38.6 82.3,39.3 82.5,38.5 82.6,39.3 82.8,39.1 82.9,38.7 83.1,38.8 83.2,39.0 83.3,38.2 83.5,38.7 83.6,39.9 83.8,40.2 83.9,39.5 84.0,38.5 84.2,39.2 84.3,37.6 84.5,38.8 84.6,38.3 84.8,38.9 84.9,37.9 85.0,38.6 85.2,37.8 85.3,36.7 85.5,37.0 85.6,38.0 85.7,38.7 85.9,39.0 86.0,38.1 86.2,38.0 86.3,37.7 86.4,38.0 86.6,38.7 86.7,37.7 86.9,37.2 87.0,36.9 87.2,37.1 87.3,37.9 87.4,37.9 87.6,36.9 87.7,36.9 87.9,36.3 88.0,35.9 88.1,36.4 88.3,35.7 88.4,35.7 88.6,37.6 88.7,36.9 88.9,37.4 89.0,38.6 89.1,37.9 89.3,38.0 89.4,37.3 89.6,36.4 89.7,36.9 89.8,36.2 90.0,36.6 90.1,36.5 90.3,36.0 90.4,35.9 90.5,36.4 90.7,36.3 90.8,37.2 91.0,37.2 91.1,37.3 91.3,37.6 91.4,36.6 91.5,35.9 91.7,37.5 91.8,37.5 92.0,35.3 92.1,35.3 92.2,35.5 92.4,35.0 92.5,36.1 92.7,36.7 92.8,36.3 93.0,36.1 93.1,36.1 93.2,36.2 93.4,36.7 93.5,37.0 93.7,38.1 93.8,37.5 93.9,37.0 94.1,37.8 94.2,37.9 94.4,36.9 94.5,36.3 94.6,37.3 94.8,37.3 94.9,36.9 95.1,36.1 95.2,35.5 95.4,35.5 95.5,36.8 95.6,36.8 95.8,36.2 95.9,35.5 96.1,35.9 96.2,35.9 96.3,36.1 96.5,36.9 96.6,36.0 96.8,36.6 96.9,37.2 97.0,37.9 97.2,37.0 97.3,36.0 97.5,36.1 97.6,37.0 97.8,36.8 97.9,37.5 98.0,38.2 98.2,36.7 98.3,37.3 98.5,37.8 98.6,37.5 98.7,36.6 98.9,37.4 99.0,36.9 99.2,35.8 99.3,36.3 99.5,37.1 99.6,36.0 99.7,36.2 99.9,37.0 100.0,36.8 100.2,36.4 100.3,37.4 100.4,38.0 100.6,37.1 100.7,36.4 100.9,35.7 101.0,36.9 101.1,35.8 101.3,35.8 101.4,36.8 101.6,35.6 101.7,36.2 101.9,37.2 102.0,36.6 102.1,37.2 102.3,36.5 102.4,36.3 102.6,36.5 102.7,36.4 102.8,36.8 103.0,37.2 103.1,37.3 103.3,36.5 103.4,35.9 103.6,36.6 103.7,36.4 103.8,37.3 104.0,36.8 104.1,35.9 104.3,35.6 104.4,35.6 104.5,36.1 104.7,36.4 104.8,36.2 105.0,36.4 105.1,35.4 105.2,35.4 105.4,36.0 105.5,36.7 105.7,36.6 105.8,36.9 106.0,36.0 106.1,36.0 106.2,36.7 106.4,36.0 106.5,35.8 106.7,36.8 106.8,37.1 106.9,37.2 107.1,36.7 107.2,36.7 107.4,36.7 107.5,35.7 107.7,37.2 107.8,36.0 107.9,36.2 108.1,36.3 108.2,36.1 108.4,37.7 108.5,36.7 108.6,36.0 108.8,35.0 108.9,35.1 109.1,35.2 109.2,36.2 109.3,36.1 109.5,36.4 109.6,36.4 109.8,36.2 109.9,37.1 110.1,37.2 110.2,36.8 110.3,36.6 110.5,36.3 110.6,36.7 110.8,36.7 110.9,36.6 111.0,37.0 111.2,36.4 111.3,37.2 111.5,36.1 111.6,35.9 111.7,35.2 111.9,35.6 112.0,35.4 112.2,34.7 112.3,36.4 112.5,36.9 112.6,36.6 112.7,36.3 112.9,36.8 113.0,37.1 113.2,37.0 113.3,36.9 113.4,37.8 113.6,38.0 113.7,36.2 113.9,37.3 114.0,38.0 114.2,38.5 114.3,38.1 114.4,39.3 114.6,39.4 114.7,38.8 114.9,38.9 115.0,38.1 115.1,38.2 115.3,38.4 115.4,38.6 115.6,38.0 115.7,38.5 115.8,36.7 116.0,35.9 116.1,35.9 116.3,36.4 116.4,36.7 116.6,37.6 116.7,37.9 116.8,37.5 117.0,37.0 117.1,38.5 117.3,37.7 117.4,38.3 117.5,38.1 117.7,39.7 117.8,42.0 118.0,44.2 118.1,42.9 118.3,42.6 118.4,40.0 118.5,39.1 118.7,37.8 118.8,38.0 119.0,37.4 119.1,39.2 119.2,39.5 119.4,37.1 119.5,37.8 119.7,38.1 119.8,39.2 119.9,39.5 120.1,40.6 120.2,39.6 120.4,41.7 120.5,45.0 120.7,43.4 120.8,45.6 120.9,46.9 121.1,45.7 121.2,46.9 121.4,45.4 121.5,42.2 121.6,40.3 121.8,39.7 121.9,40.4 122.1,40.6 122.2,38.1 122.4,37.7 122.5,38.9 122.6,37.9 122.8,40.1 122.9,40.4 123.1,41.4 123.2,42.2 123.3,43.0 123.5,43.6 123.6,43.9 123.8,44.8 123.9,49.9 124.0,49.6 124.2,53.7 124.3,55.1 124.5,52.1 124.6,47.1 124.8,44.1 124.9,41.5 125.0,39.2 125.2,39.8 125.3,39.4 125.5,39.2 125.6,40.6 125.7,39.6 125.9,38.0 126.0,36.1 126.2,40.6 126.3,38.9 126.5,41.4 126.6,45.3 126.7,45.2 126.9,46.5 127.0,47.8 127.2,46.9 127.3,48.7 127.4,50.9 127.6,53.5 127.7,55.1 127.9,51.0 128.0,45.2 128.1,43.1 128.3,41.2 128.4,42.7 128.6,40.2 128.7,41.0 128.9,41.2 129.0,39.4 129.1,38.7 129.3,35.8 129.4,39.7 129.6,38.7 129.7,35.5 129.8,36.5 130.0,39.6 130.1,40.1 130.3,46.6 130.4,46.6 130.5,49.3 130.7,49.4 130.8,54.8 131.0,54.5 131.1,50.3 131.3,45.2 131.4,44.1 131.5,42.7 131.7,43.0 131.8,37.7 132.0,39.9 132.1,37.2 132.2,35.5 132.4,36.5 132.5,37.5 132.7,39.7 132.8,39.7 133.0,36.8 133.1,40.6 133.2,41.4 133.4,43.2 133.5,43.2 133.7,44.0 133.8,46.2 133.9,51.4 134.1,55.7 134.2,56.7 134.4,57.5 134.5,51.1 134.6,47.4 134.8,42.4 134.9,40.6 135.1,37.2 135.2,35.8 135.4,36.3 135.5,37.0 135.6,38.8 135.8,35.9 135.9,35.9 136.1,35.5 136.2,38.5 136.3,36.3 136.5,38.5 136.6,42.5 136.8,44.4 136.9,45.1 137.1,49.2 137.2,51.4 137.3,54.8 137.5,59.3 137.6,54.8 137.8,50.5 137.9,47.4 138.0,43.2 138.2,41.7 138.3,40.0 138.5,37.0 138.6,37.5 138.7,39.1 138.9,38.1 139.0,37.5 139.2,39.5 139.3,39.9 139.5,43.6 139.6,43.5 139.7,43.4 139.9,44.0 140.0,46.1 140.2,47.3 140.3,47.4 140.4,51.2 140.6,54.1 140.7,54.7 140.9,50.5 141.0,50.4 141.2,45.0 141.3,46.0 141.4,45.1 141.6,44.6 141.7,41.5 141.9,41.5 142.0,39.3 142.1,37.9 142.3,40.5 142.4,37.3 142.6,40.2 142.7,38.7 142.8,38.5 143.0,40.0 143.1,42.7 143.3,46.0 143.4,46.6 143.6,48.2 143.7,49.6 143.8,52.6 144.0,54.9 144.1,56.3 144.3,53.7 144.4,50.3 144.5,46.9 144.7,43.6 144.8,42.0 145.0,39.2 145.1,40.4 145.2,37.7 145.4,37.0 145.5,37.0 145.7,38.5 145.8,37.0 146.0,37.7 146.1,38.9 146.2,44.6 146.4,42.0 146.5,43.5 146.7,47.2 146.8,47.7 146.9,50.3 147.1,52.5 147.2,54.4 147.4,55.7 147.5,55.9 147.7,49.0 147.8,47.3 147.9,42.8 148.1,44.0 148.2,42.1 148.4,39.8 148.5,40.8 148.6,36.7 148.8,38.9 148.9,37.0 149.1,37.5 149.2,37.6 149.3,36.7 149.5,38.3 149.6,39.9 149.8,42.9 149.9,45.6 150.1,45.5 150.2,48.1 150.3,49.2 150.5,45.7 150.6,51.9 150.8,54.7 150.9,49.9 151.0,45.2 151.2,43.7 151.3,42.3 151.5,39.2 151.6,37.2 151.8,38.1 151.9,38.4 152.0,37.4 152.2,37.9 152.3,38.7 152.5,39.4 152.6,40.2 152.7,40.6 152.9,41.0 153.0,45.7 153.2,44.6 153.3,43.7 153.4,46.4 153.6,47.6 153.7,49.8 153.9,50.1 154.0,55.9 154.2,53.4 154.3,50.4 154.4,44.8 154.6,43.2 154.7,40.7 154.9,40.2 155.0,38.0 155.1,36.3 155.3,38.6 155.4,35.8 155.6,38.0 155.7,37.2 155.9,37.4 156.0,38.4 156.1,41.2 156.3,41.6 156.4,41.0 156.6,44.5 156.7,48.0 156.8,50.6 157.0,49.0 157.1,53.4 157.3,52.0 157.4,54.2 157.5,52.9 157.7,45.8 157.8,41.4 158.0,40.7 158.1,41.1 158.3,41.4 158.4,39.0 158.5,41.2 158.7,38.9 158.8,41.2 159.0,42.5 159.1,42.1 159.2,41.5 159.4,43.1 159.5,42.4 159.7,43.2 159.8,45.2 160.0,45.0 160.1,48.3 160.2,48.2 160.4,51.9 160.5,53.5 160.7,49.6 160.8,45.8 160.9,43.8 161.1,43.8 161.2,42.8 161.4,40.4 161.5,40.8 161.6,39.2 161.8,34.1 161.9,35.8 162.1,36.1 162.2,38.5 162.4,38.6 162.5,40.6 162.6,41.1 162.8,41.5 162.9,42.3 163.1,42.1 163.2,47.4 163.3,49.1 163.5,48.9 163.6,54.8 163.8,53.5 163.9,49.1 164.0,46.1 164.2,46.6 164.3,43.4 164.5,43.3 164.6,41.6 164.8,34.3 164.9,35.3 165.0,36.6 165.2,38.5 165.3,38.2 165.5,37.7 165.6,35.0 165.7,36.7 165.9,37.2 166.0,38.8 166.2,39.0 166.3,39.9 166.5,43.1 166.6,43.6 166.7,45.4 166.9,48.1 167.0,53.3 167.2,50.3 167.3,48.9 167.4,46.8 167.6,43.0 167.7,41.1 167.9,39.3 168.0,38.4 168.1,39.1 168.3,37.5 168.4,35.0 168.6,39.9 168.7,39.9 168.9,37.4 169.0,37.5 169.1,40.2 169.3,40.9 169.4,40.1 169.6,41.9 169.7,43.0 169.8,42.4 170.0,45.7 170.1,48.3 170.3,51.0 170.4,54.3 170.6,51.9 170.7,49.7 170.8,46.8 171.0,41.2 171.1,37.8 171.3,35.8 171.4,35.3 171.5,35.5 171.7,35.8 171.8,37.0 172.0,36.2 172.1,36.1 172.2,35.2 172.4,40.1 172.5,43.3 172.7,42.5 172.8,43.7 173.0,44.0 173.1,47.7 173.2,51.1 173.4,51.8 173.5,56.3 173.7,52.9 173.8,47.3 173.9,43.6 174.1,40.9 174.2,41.4 174.4,39.5 174.5,36.7 174.7,33.8 174.8,35.7 174.9,33.9 175.1,36.4 175.2,37.0 175.4,36.7 175.5,39.5 175.6,40.0 175.8,41.4 175.9,45.0 176.1,45.3 176.2,46.2 176.3,49.3 176.5,54.3 176.6,55.9 176.8,55.2 176.9,49.2 177.1,46.9 177.2,43.5 177.3,40.7 177.5,41.3 177.6,40.7 177.8,39.6 177.9,40.1 178.0,39.5 178.2,38.8 178.3,38.3 178.5,37.3 178.6,37.0 178.7,40.4 178.9,42.5 179.0,41.2 179.2,43.5 179.3,46.8 179.5,48.1 179.6,51.7 179.7,52.9 179.9,56.8 180.0,51.0 180.2,47.4 180.3,44.1 180.4,40.5 180.6,41.2 180.7,37.3 180.9,36.4 181.0,38.1 181.2,35.6 181.3,34.2 181.4,36.8 181.6,38.1 181.7,37.8 181.9,40.0 182.0,39.7 182.1,40.8 182.3,42.2 182.4,44.4 182.6,47.6 182.7,46.9 182.8,51.2 183.0,55.6 183.1,49.8 183.3,48.5 183.4,45.7 183.6,42.3 183.7,39.4 183.8,39.0 184.0,36.6 184.1,37.2 184.3,38.3 184.4,39.1 184.5,39.2 184.7,40.2 184.8,38.2 185.0,41.4 185.1,40.9 185.3,43.0 185.4,45.5 185.5,47.6 185.7,51.9 185.8,55.1 186.0,53.9 186.1,56.1 186.2,49.3 186.4,46.7 186.5,43.7 186.7,42.4 186.8,40.9 186.9,39.9 187.1,37.2 187.2,35.2 187.4,37.5 187.5,39.4 187.7,40.5 187.8,39.7 187.9,36.7 188.1,38.7 188.2,41.0 188.4,40.6 188.5,43.3 188.6,45.5 188.8,43.5 188.9,45.5 189.1,49.1 189.2,50.4 189.4,48.7 189.5,46.1 189.6,45.5 189.8,40.8 189.9,40.7 190.1,38.4 190.2,39.3 190.3,40.4 190.5,39.5 190.6,39.5 190.8,39.7 190.9,41.6 191.0,38.1 191.2,39.1 191.3,36.0 191.5,37.1 191.6,41.0 191.8,41.4 191.9,45.5 192.0,48.7 192.2,51.5 192.3,53.8 192.5,52.4 192.6,54.7 192.7,50.0 192.9,47.5 193.0,43.3 193.2,41.6 193.3,41.7 193.4,39.7 193.6,38.5 193.7,36.4 193.9,34.8 194.0,40.2 194.2,39.3 194.3,39.9 194.4,41.4 194.6,44.4 194.7,42.8 194.9,44.7 195.0,44.0 195.1,45.1 195.3,50.9 195.4,53.1 195.6,52.9 195.7,53.7 195.9,51.8 196.0,49.0 196.1,44.5 196.3,41.8 196.4,39.2 196.6,39.2 196.7,37.8 196.8,36.7 197.0,39.0 197.1,37.7 197.3,37.9 197.4,36.3 197.5,37.0 197.7,37.4 197.8,40.1 198.0,41.9 198.1,42.2 198.3,44.9 198.4,46.3 198.5,49.8 198.7,53.8 198.8,57.0 199.0,53.9 199.1,52.3 199.2,47.1 199.4,41.4 199.5,41.2 199.7,40.4 199.8,40.8 200.0,40.2 200.1,40.9 200.2,41.3 200.4,39.5 200.5,38.6 200.7,38.6 200.8,39.5 200.9,42.6 201.1,43.3 201.2,41.7 201.4,43.5 201.5,48.1 201.6,52.4 201.8,51.9 201.9,54.8 202.1,57.1 202.2,55.6 202.4,50.5 202.5,46.9 202.6,44.0 202.8,42.3 202.9,42.1 203.1,40.7 203.2,39.2 203.3,35.0 203.5,35.3 203.6,38.9 203.8,38.1 203.9,39.4 204.1,39.6 204.2,39.3 204.3,42.3 204.5,46.8 204.6,47.9 204.8,47.5 204.9,45.5 205.0,47.8 205.2,51.8 205.3,53.1 205.5,54.8 205.6,49.3 205.7,47.9 205.9,42.5 206.0,42.5 206.2,40.6 206.3,37.5 206.5,36.9 206.6,36.5 206.7,39.6 206.9,37.7 207.0,39.0 207.2,40.7 207.3,39.7 207.4,39.1 207.6,40.4 207.7,43.9 207.9,43.0 208.0,45.9 208.2,46.9 208.3,52.0 208.4,55.7 208.6,55.6 208.7,55.5 208.9,47.7 209.0,44.3 209.1,43.9 209.3,41.7 209.4,42.4 209.6,38.5 209.7,37.6 209.8,39.9 210.0,37.4 210.1,36.4 210.3,35.3 210.4,37.3 210.6,36.8 210.7,39.1 210.8,41.0 211.0,39.6 211.1,44.4 211.3,47.2 211.4,48.5 211.5,49.7 211.7,51.4 211.8,51.0 212.0,54.0 212.1,54.7 212.2,50.9 212.4,44.9 212.5,44.1 212.7,42.2 212.8,38.6 213.0,38.0 213.1,39.6 213.2,39.2 213.4,40.1 213.5,37.6 213.7,39.3 213.8,39.3 213.9,41.4 214.1,42.9 214.2,40.5 214.4,39.5 214.5,42.4 214.7,45.0 214.8,45.3 214.9,48.9 215.1,50.1 215.2,53.6 215.4,52.6 215.5,51.9 215.6,45.8 215.8,42.7 215.9,45.1 216.1,42.3 216.2,41.2 216.3,40.4 216.5,40.2 216.6,42.5 216.8,38.6 216.9,36.4 217.1,37.6 217.2,37.6 217.3,40.4 217.5,39.6 217.6,40.5 217.8,43.8 217.9,43.2 218.0,43.4 218.2,46.1 218.3,48.2 218.5,50.0 218.6,51.0 218.8,50.6 218.9,44.6 219.0,39.8 219.2,38.7 219.3,40.1 219.5,37.1 219.6,37.4 219.7,35.9 219.9,35.2 220.0,35.7 220.2,36.1 220.3,33.7 220.4,35.0 220.6,38.2 220.7,40.0 220.9,41.0 221.0,41.7 221.2,44.8 221.3,46.7 221.4,48.7 221.6,51.4 221.7,55.6 221.9,54.9 222.0,52.6 222.1,47.4 222.3,44.6 222.4,42.4 222.6,37.7 222.7,39.0 222.9,36.2 223.0,36.6 223.1,37.2 223.3,34.6 223.4,36.0 223.6,37.3 223.7,38.6 223.8,37.6 224.0,38.0 224.1,40.7 224.3,41.3 224.4,43.1 224.5,43.6 224.7,47.4 224.8,51.0 225.0,55.2 225.1,55.5 225.3,57.0 225.4,52.3 225.5,47.0 225.7,43.7 225.8,40.5 226.0,40.9 226.1,41.5 226.2,38.7 226.4,40.9 226.5,40.9 226.7,39.1 226.8,40.2 226.9,43.1 227.1,39.0 227.2,41.1 227.4,42.2 227.5,43.4 227.7,46.3 227.8,47.6 227.9,49.9 228.1,49.8 228.2,51.9 228.4,56.3 228.5,55.6 228.6,52.5 228.8,47.6 228.9,43.0 229.1,38.8 229.2,40.1 229.4,36.7 229.5,36.2 229.6,34.3 229.8,37.1 229.9,35.3 230.1,37.8 230.2,41.2 230.3,37.9 230.5,38.5 230.6,38.4 230.8,42.7 230.9,46.6 231.0,45.0 231.2,44.4 231.3,46.2 231.5,48.0 231.6,51.9 231.8,53.2 231.9,55.1 232.0,53.9 232.2,51.1 232.3,46.0 232.5,44.4 232.6,40.8 232.7,38.3 232.9,39.5 233.0,37.6 233.2,34.7 233.3,35.9 233.5,35.8 233.6,35.2 233.7,38.2 233.9,39.0 234.0,40.6 234.2,42.6 234.3,44.0 234.4,46.2 234.6,50.5 234.7,52.8 234.9,51.5 235.0,51.7 235.1,48.7 235.3,44.8 235.4,45.6 235.6,46.1 235.7,41.6 235.9,39.1 236.0,36.9 236.1,39.9 236.3,38.3 236.4,39.8 236.6,37.6 236.7,40.8 236.8,40.6 237.0,40.2 237.1,40.4 237.3,42.4 237.4,44.3 237.6,44.1 237.7,47.9 237.8,47.8 238.0,46.6 238.1,48.4 238.3,56.2 238.4,56.9 238.5,53.1 238.7,50.3 238.8,46.3 239.0,44.9 239.1,40.6 239.2,39.3 239.4,36.9 239.5,38.6 239.7,38.6 239.8,37.7 240.0,40.0 240.1,38.9 240.2,37.0 240.4,38.1 240.5,37.8 240.7,43.1 240.8,44.6 240.9,45.7 241.1,44.6 241.2,48.5 241.4,53.0 241.5,54.4 241.7,51.8 241.8,46.8 241.9,47.1 242.1,42.8 242.2,42.2 242.4,36.8 242.5,38.5 242.6,38.1 242.8,40.6 242.9,40.0 243.1,40.6 243.2,42.0 243.3,41.8 243.5,40.4 243.6,42.0 243.8,40.5 243.9,42.7 244.1,42.3 244.2,42.2 244.3,45.8 244.5,47.3 244.6,49.6 244.8,50.4 244.9,51.6 245.0,50.7 245.2,48.5 245.3,45.3 245.5,43.7 245.6,42.0 245.7,40.0 245.9,36.4 246.0,36.8 246.2,39.4 246.3,38.2 246.5,38.2 246.6,40.9 246.7,38.4 246.9,40.7 247.0,42.5 247.2,40.4 247.3,44.0 247.4,44.9 247.6,43.6 247.7,48.0 247.9,51.0 248.0,55.8 248.2,56.4 248.3,51.5 248.4,47.5 248.6,47.4 248.7,43.0 248.9,42.7 249.0,41.2 249.1,38.3 249.3,37.0 249.4,36.0 249.6,34.4 249.7,33.8 249.8,37.6 250.0,38.1 250.1,38.1 250.3,39.2 250.4,39.6 250.6,40.8 250.7,41.8 250.8,44.6 251.0,50.2 251.1,50.6 251.3,54.0 251.4,54.6 251.5,52.7 251.7,46.9 251.8,47.3 252.0,46.2 252.1,41.4 252.3,40.0 252.4,43.7 252.5,42.5 252.7,42.8 252.8,42.0 253.0,42.3 253.1,44.0 253.2,41.6 253.4,42.7 253.5,43.6 253.7,44.2 253.8,45.0 253.9,46.4 254.1,47.5 254.2,51.9 254.4,56.9 254.5,58.4 254.7,53.6 254.8,49.1 254.9,44.4 255.1,42.9 255.2,41.5 255.4,42.7 255.5,40.1 255.6,38.1 255.8,36.5 255.9,34.9 256.1,37.8 256.2,34.8 256.4,37.0 256.5,39.2 256.6,40.4 256.8,38.9 256.9,40.9 257.1,43.1 257.2,44.5 257.3,44.1 257.5,47.3 257.6,51.6 257.8,53.0 257.9,58.5 258.0,57.6 258.2,51.0 258.3,48.3 258.5,45.2 258.6,44.8 258.8,41.5 258.9,37.5 259.0,37.1 259.2,37.2 259.3,36.7 259.5,38.0 259.6,36.8 259.7,39.2 259.9,37.9 260.0,38.4 260.2,40.8 260.3,45.1 260.4,45.1 260.6,46.0 260.7,45.6 260.9,48.7 261.0,52.8 261.2,53.7 261.3,55.7 261.4,55.6 261.6,53.9 261.7,47.4 261.9,46.5 262.0,45.9 262.1,44.3 262.3,41.9 262.4,39.3 262.6,38.2 262.7,37.9 262.9,40.7 263.0,38.3 263.1,41.4 263.3,39.9 263.4,43.9 263.6,43.7 263.7,40.5 263.8,42.2 264.0,46.2 264.1,45.5 264.3,47.6 264.4,48.9 264.5,52.0 264.7,52.7 264.8,51.9 265.0,48.3 265.1,44.8 265.3,39.9 265.4,39.7 265.5,38.7 265.7,37.9 265.8,40.3 266.0,44.4 266.1,39.8 266.2,38.9 266.4,41.0 266.5,43.9 266.7,42.4 266.8,41.6 267.0,42.4 267.1,41.4 267.2,45.0 267.4,46.9 267.5,48.1 267.7,48.3 267.8,51.4 267.9,53.1 268.1,58.0 268.2,52.4 268.4,48.8 268.5,45.1 268.6,43.3 268.8,41.0 268.9,39.1 269.1,36.0 269.2,37.1 269.4,38.1 269.5,37.2 269.6,38.9 269.8,40.3 269.9,39.2 270.1,41.5 270.2,45.1 270.3,43.8 270.5,44.8 270.6,45.0 270.8,46.2 270.9,49.7 271.1,54.0 271.2,52.3 271.3,57.2 271.5,52.7 271.6,48.6 271.8,46.9 271.9,43.3 272.0,40.1 272.2,40.0 272.3,40.7 272.5,39.0 272.6,39.4 272.7,41.5 272.9,38.0 273.0,38.7 273.2,37.1 273.3,36.9 273.5,37.3 273.6,40.0 273.7,41.5 273.9,46.4 274.0,44.5 274.2,47.9 274.3,50.1 274.4,52.6 274.6,56.6 274.7,51.5 274.9,48.6 275.0,45.4 275.2,42.4 275.3,42.7 275.4,43.8 275.6,40.2 275.7,40.4 275.9,36.1 276.0,35.9 276.1,38.4 276.3,37.3 276.4,39.8 276.6,39.8 276.7,39.8 276.8,41.4 277.0,42.7 277.1,47.9 277.3,46.6 277.4,47.6 277.6,52.3 277.7,53.2 277.8,58.3 278.0,53.5 278.1,48.6 278.3,46.4 278.4,41.8 278.5,40.6 278.7,42.2 278.8,37.8 279.0,37.8 279.1,38.0 279.2,41.5 279.4,39.6 279.5,39.4 279.7,39.5 279.8,42.4 280.0,43.5 280.1,43.1 280.2,44.2 280.4,48.2 280.5,49.4 280.7,52.0 280.8,54.6 280.9,59.0 281.1,54.5 281.2,46.8 281.4,47.4 281.5,43.8 281.7,42.6 281.8,40.5 281.9,42.9 282.1,41.2 282.2,40.6 282.4,37.3 282.5,39.5 282.6,37.9 282.8,35.9 282.9,37.4 283.1,37.4 283.2,38.9 283.3,39.0 283.5,40.7 283.6,43.2 283.8,45.4 283.9,45.6 284.1,46.2 284.2,49.8 284.3,53.4 284.5,51.4 284.6,43.9 284.8,42.4 284.9,40.0 285.0,38.1 285.2,38.7 285.3,39.2 285.5,36.6 285.6,37.7 285.8,41.2 285.9,40.6 286.0,40.3 286.2,38.1 286.3,40.9 286.5,41.9 286.6,44.7 286.7,44.2 286.9,43.5 287.0,43.6 287.2,46.8 287.3,52.5 287.4,55.4 287.6,53.6 287.7,48.5 287.9,44.8 288.0,45.1 288.2,40.6 288.3,40.9 288.4,37.3 288.6,36.3 288.7,37.7 288.9,39.7 289.0,37.4 289.1,38.1 289.3,39.2 289.4,39.7 289.6,39.0 289.7,41.1 289.9,45.5 290.0,46.8 290.1,49.7 290.3,51.2 290.4,52.7 290.6,52.3 290.7,56.8 290.8,52.7 291.0,49.5 291.1,47.6 291.3,43.3 291.4,43.5 291.5,41.4 291.7,42.4 291.8,41.6 292.0,38.0 292.1,40.7 292.3,39.3 292.4,36.7 292.5,38.3 292.7,38.6 292.8,38.9 293.0,39.4 293.1,41.1 293.2,43.4 293.4,44.0 293.5,44.4 293.7,47.1 293.8,50.0 293.9,51.9 294.1,53.9 294.2,54.4 294.4,49.8 294.5,48.3 294.7,44.7 294.8,40.5 294.9,42.0 295.1,39.4 295.2,38.6 295.4,38.1 295.5,39.5 295.6,39.8 295.8,35.8 295.9,38.2 296.1,39.2 296.2,39.9 296.4,41.6 296.5,39.6 296.6,45.6 296.8,43.7 296.9,46.5 297.1,49.8 297.2,51.1 297.3,51.2 297.5,49.6 297.6,51.2 297.8,46.9 297.9,44.6 298.0,42.9 298.2,43.5 298.3,40.5 298.5,39.6 298.6,41.0 298.8,40.1 298.9,40.4 299.0,42.0 299.2,42.6 299.3,42.9 299.5,44.4 299.6,44.5 299.7,47.3 299.9,44.2 300.0,45.4 300.2,45.6 300.3,50.0 300.5,50.3 300.6,51.4 300.7,52.6 300.9,47.0 301.0,46.8 301.2,40.4 301.3,39.4 301.4,38.7 301.6,40.6 301.7,39.6 301.9,37.6 302.0,35.2 302.1,36.5 302.3,40.4 302.4,38.6 302.6,40.9 302.7,39.5 302.9,41.5 303.0,41.2 303.1,41.7 303.3,42.5 303.4,42.7 303.6,47.1 303.7,49.8 303.8,50.1 304.0,52.1 304.1,52.0 304.3,46.7 304.4,44.2 304.6,42.8 304.7,40.9 304.8,38.2 305.0,37.0 305.1,37.0 305.3,36.3 305.4,39.0 305.5,37.4 305.7,39.5 305.8,39.8 306.0,43.2 306.1,42.4 306.2,41.6 306.4,41.5 306.5,45.2 306.7,46.1 306.8,46.6 307.0,49.1 307.1,50.9 307.2,57.6 307.4,55.7 307.5,51.9 307.7,48.2 307.8,41.4 307.9,40.6 308.1,42.7 308.2,37.1 308.4,37.9 308.5,36.2 308.7,35.9 308.8,37.1 308.9,38.9 309.1,39.3 309.2,35.8 309.4,38.1 309.5,40.9 309.6,43.1 309.8,43.3 309.9,45.0 310.1,47.9 310.2,51.8 310.3,52.8 310.5,52.8 310.6,54.2 310.8,51.9 310.9,49.0 311.1,45.1 311.2,44.1 311.3,44.1 311.5,39.5 311.6,37.8 311.8,40.0 311.9,38.4 312.0,37.3 312.2,38.5 312.3,38.2 312.5,39.7 312.6,40.4 312.7,39.5 312.9,39.2 313.0,40.3 313.2,42.0 313.3,42.9 313.5,44.2 313.6,46.6 313.7,49.5 313.9,47.9 314.0,53.1 314.2,54.8 314.3,48.3 314.4,45.7 314.6,43.8 314.7,43.9 314.9,43.9 315.0,42.6 315.2,42.7 315.3,41.6 315.4,40.8 315.6,37.6 315.7,37.0 315.9,38.9 316.0,39.9 316.1,41.8 316.3,42.6 316.4,42.9 316.6,43.5 316.7,45.8 316.8,46.6 317.0,45.7 317.1,50.0 317.3,53.8 317.4,52.1 317.6,55.9 317.7,50.2 317.8,50.6 318.0,45.5 318.1,43.3 318.3,41.8 318.4,39.4 318.5,37.1 318.7,36.7 318.8,34.5 319.0,35.3 319.1,38.0 319.3,38.5 319.4,40.9 319.5,41.7 319.7,42.7 319.8,43.6 320.0,46.9 320.1,45.6 320.2,49.4 320.4,55.4 320.5,57.9 320.7,58.9 320.8,53.3 320.9,49.1 321.1,43.1 321.2,41.2 321.4,38.6 321.5,36.7 321.7,38.0 321.8,39.0 321.9,37.0 322.1,35.9 322.2,37.9 322.4,38.0 322.5,39.6 322.6,36.6 322.8,35.5 322.9,38.9 323.1,40.9 323.2,42.8 323.4,43.8 323.5,46.0 323.6,48.4 323.8,49.5 323.9,52.0 324.1,55.3 324.2,49.5 324.3,47.8 324.5,43.1 324.6,41.1 324.8,37.9 324.9,36.4 325.0,36.2 325.2,34.6 325.3,35.7 325.5,36.3 325.6,36.6 325.8,39.5 325.9,43.2 326.0,41.2 326.2,39.7 326.3,44.3 326.5,45.4 326.6,46.8 326.7,46.2 326.9,49.0 327.0,49.8 327.2,54.0 327.3,56.0 327.4,51.2 327.6,52.6 327.7,49.0 327.9,42.7 328.0,39.5 328.2,40.1 328.3,38.9 328.4,38.8 328.6,37.7 328.7,36.6 328.9,34.3 329.0,35.9 329.1,35.4 329.3,36.5 329.4,41.6 329.6,42.3 329.7,42.7 329.9,46.2 330.0,45.8 330.1,47.5 330.3,50.3 330.4,52.1 330.6,54.7 330.7,53.3 330.8,47.0 331.0,42.4 331.1,41.1 331.3,38.6 331.4,35.1 331.5,34.6 331.7,37.4 331.8,40.0 332.0,36.9 332.1,38.3 332.3,35.6 332.4,36.3 332.5,37.9 332.7,39.4 332.8,40.7 333.0,44.4 333.1,43.8 333.2,46.7 333.4,50.0 333.5,54.4 333.7,57.0 333.8,55.8 334.0,52.5 334.1,48.6 334.2,44.2 334.4,41.2 334.5,41.1 334.7,40.5 334.8,39.7" stroke="#ea4e54"/>
</g>
<rect x="134.3" y="88.6" width="176.09999999999997" height="110.80000000000001" fill="#fff"/>
<g clip-path="url(#ci)" fill="none" stroke-width="1.4" stroke-linejoin="round">
<path d="M132.5,122.7 132.9,123.5 133.2,124.8 133.6,120.0 133.9,123.1 134.3,119.0 134.7,124.1 135.0,134.1 135.4,140.0 135.7,140.8 136.1,134.9 136.4,132.7 136.8,139.6 137.1,142.2 137.5,138.2 137.8,136.8 138.2,137.2 138.5,137.1 138.9,141.0 139.2,142.9 139.6,140.5 139.9,133.2 140.3,134.4 140.6,132.7 141.0,123.0 141.3,121.9 141.7,127.6 142.0,133.0 142.4,128.3 142.8,136.4 143.1,132.9 143.5,136.8 143.8,132.2 144.2,133.7 144.5,146.3 144.9,147.5 145.2,146.5 145.6,144.1 145.9,152.4 146.3,152.0 146.6,149.6 147.0,146.9 147.3,138.8 147.7,141.4 148.0,142.9 148.4,140.4 148.7,140.1 149.1,128.9 149.4,128.7 149.8,133.8 150.1,125.0 150.5,118.8 150.9,121.4 151.2,118.5 151.6,125.6 151.9,119.3 152.3,121.6 152.6,120.7 153.0,122.5 153.3,121.0 153.7,115.6 154.0,121.5 154.4,123.7 154.7,123.1 155.1,120.5 155.4,118.5 155.8,117.2 156.1,118.6 156.5,115.4 156.8,128.4 157.2,121.8 157.5,121.4 157.9,116.0 158.2,116.0 158.6,114.5 159.0,110.6 159.3,113.8 159.7,118.7 160.0,117.5 160.4,119.5 160.7,126.6 161.1,121.2 161.4,126.3 161.8,132.7 162.1,132.2 162.5,136.9 162.8,139.7 163.2,142.4 163.5,132.9 163.9,134.5 164.2,137.0 164.6,150.7 164.9,153.3 165.3,154.4 165.6,156.0 166.0,158.2 166.4,151.0 166.7,144.0 167.1,139.5 167.4,130.3 167.8,121.8 168.1,120.9 168.5,121.1 168.8,120.9 169.2,122.2 169.5,125.9 169.9,134.6 170.2,138.5 170.6,127.4 170.9,140.6 171.3,135.1 171.6,138.3 172.0,142.1 172.3,137.5 172.7,130.7 173.0,125.9 173.4,123.4 173.7,133.3 174.1,136.2 174.5,127.9 174.8,129.2 175.2,130.3 175.5,134.4 175.9,134.1 176.2,127.7 176.6,130.0 176.9,139.1 177.3,143.0 177.6,149.2 178.0,145.4 178.3,143.2 178.7,149.5 179.0,142.1 179.4,145.0 179.7,150.7 180.1,151.5 180.4,146.4 180.8,138.2 181.1,149.4 181.5,151.7 181.8,149.7 182.2,146.3 182.6,142.8 182.9,142.3 183.3,137.8 183.6,138.3 184.0,142.3 184.3,143.2 184.7,142.6 185.0,137.7 185.4,134.0 185.7,127.2 186.1,133.4 186.4,135.5 186.8,134.2 187.1,126.3 187.5,132.6 187.8,140.7 188.2,132.4 188.5,129.6 188.9,134.4 189.2,134.2 189.6,126.7 189.9,125.9 190.3,136.6 190.7,140.7 191.0,135.9 191.4,137.2 191.7,138.1 192.1,136.7 192.4,137.4 192.8,134.6 193.1,138.1 193.5,147.9 193.8,135.8 194.2,134.4 194.5,140.0 194.9,149.9 195.2,160.0 195.6,153.6 195.9,147.5 196.3,147.3 196.6,147.5 197.0,150.3 197.3,158.1 197.7,152.5 198.0,160.9 198.4,159.2 198.8,154.1 199.1,152.8 199.5,152.4 199.8,147.6 200.2,139.4 200.5,138.7 200.9,134.8 201.2,134.8 201.6,131.6 201.9,132.1 202.3,131.0 202.6,139.8 203.0,141.9 203.3,134.2 203.7,135.2 204.0,137.3 204.4,126.8 204.7,128.3 205.1,125.8 205.4,133.7 205.8,130.4 206.1,128.6 206.5,131.8 206.9,133.0 207.2,134.4 207.6,137.2 207.9,145.5 208.3,144.4 208.6,136.3 209.0,132.7 209.3,139.4 209.7,138.0 210.0,136.3 210.4,140.3 210.7,146.3 211.1,147.3 211.4,159.4 211.8,159.5 212.1,165.4 212.5,160.0 212.8,160.0 213.2,160.2 213.5,171.0 213.9,158.1 214.2,156.6 214.6,150.9 215.0,142.2 215.3,141.3 215.7,142.2 216.0,138.9 216.4,138.8 216.7,145.6 217.1,142.5 217.4,135.8 217.8,133.4 218.1,137.3 218.5,131.7 218.8,137.2 219.2,137.3 219.5,135.8 219.9,136.7 220.2,140.6 220.6,144.3 220.9,142.6 221.3,134.0 221.6,127.9 222.0,125.8 222.3,130.0 222.7,146.2 223.1,143.3 223.4,147.8 223.8,152.5 224.1,148.2 224.5,146.5 224.8,147.4 225.2,149.7 225.5,148.3 225.9,138.7 226.2,144.2 226.6,145.8 226.9,141.6 227.3,143.3 227.6,145.7 228.0,141.7 228.3,156.3 228.7,156.4 229.0,152.3 229.4,145.7 229.7,143.9 230.1,143.4 230.5,141.9 230.8,137.0 231.2,141.2 231.5,136.2 231.9,143.0 232.2,145.2 232.6,140.4 232.9,140.3 233.3,135.1 233.6,128.2 234.0,129.5 234.3,125.4 234.7,136.2 235.0,123.5 235.4,127.4 235.7,123.4 236.1,124.6 236.4,129.0 236.8,127.5 237.1,133.0 237.5,130.3 237.8,119.7 238.2,125.9 238.6,121.0 238.9,119.0 239.3,120.9 239.6,125.2 240.0,130.3 240.3,131.4 240.7,127.3 241.0,135.2 241.4,134.6 241.7,141.9 242.1,140.4 242.4,143.5 242.8,140.2 243.1,143.3 243.5,142.1 243.8,141.3 244.2,145.9 244.5,139.9 244.9,141.7 245.2,143.6 245.6,137.8 245.9,135.6 246.3,133.6 246.7,131.7 247.0,143.8 247.4,137.8 247.7,132.1 248.1,132.4 248.4,140.7 248.8,142.0 249.1,135.6 249.5,131.7 249.8,127.5 250.2,136.7 250.5,136.3 250.9,134.1 251.2,137.3 251.6,127.8 251.9,131.3 252.3,128.9 252.6,127.0 253.0,128.1 253.3,135.2 253.7,133.8 254.0,129.8 254.4,130.1 254.8,136.6 255.1,152.7 255.5,143.5 255.8,137.2 256.2,139.6 256.5,138.5 256.9,144.7 257.2,143.7 257.6,151.6 257.9,152.5 258.3,149.4 258.6,151.0 259.0,151.3 259.3,136.4 259.7,146.5 260.0,147.0 260.4,148.0 260.7,150.9 261.1,157.5 261.4,151.1 261.8,147.4 262.1,147.6 262.5,151.8 262.9,146.0 263.2,136.3 263.6,133.1 263.9,122.4 264.3,122.3 264.6,130.3 265.0,124.0 265.3,124.7 265.7,127.9 266.0,118.5 266.4,121.2 266.7,115.2 267.1,115.0 267.4,120.4 267.8,123.9 268.1,121.2 268.5,125.2 268.8,123.4 269.2,117.5 269.5,120.4 269.9,124.6 270.2,120.7 270.6,120.8 271.0,131.2 271.3,128.8 271.7,126.4 272.0,117.7 272.4,118.8 272.7,120.8 273.1,113.4 273.4,122.8 273.8,129.5 274.1,133.5 274.5,129.6 274.8,131.9 275.2,125.8 275.5,128.3 275.9,129.6 276.2,131.2 276.6,127.8 276.9,128.9 277.3,135.6 277.6,134.2 278.0,135.4 278.3,143.8 278.7,139.3 279.1,145.3 279.4,153.0 279.8,151.5 280.1,144.5 280.5,139.3 280.8,137.2 281.2,132.9 281.5,132.3 281.9,129.6 282.2,125.6 282.6,130.9 282.9,136.4 283.3,133.4 283.6,124.9 284.0,130.9 284.3,123.4 284.7,125.9 285.0,126.4 285.4,124.3 285.7,120.0 286.1,125.5 286.5,115.9 286.8,118.2 287.2,123.2 287.5,124.2 287.9,121.8 288.2,117.3 288.6,115.6 288.9,115.7 289.3,119.8 289.6,115.9 290.0,117.8 290.3,117.8 290.7,114.2 291.0,122.0 291.4,111.5 291.7,112.6 292.1,116.6 292.4,128.1 292.8,128.6 293.1,125.4 293.5,124.2 293.8,133.7 294.2,127.3 294.6,121.7 294.9,120.5 295.3,119.0 295.6,120.5 296.0,128.6 296.3,132.6 296.7,127.3 297.0,138.9 297.4,137.5 297.7,139.2 298.1,146.9 298.4,140.0 298.8,141.0 299.1,152.2 299.5,151.8 299.8,158.4 300.2,164.8 300.5,159.9 300.9,158.0 301.2,157.4 301.6,148.0 301.9,146.2 302.3,146.7 302.7,149.6 303.0,151.0 303.4,143.4 303.7,134.4 304.1,130.0 304.4,125.2 304.8,121.2 305.1,123.1 305.5,125.0 305.8,122.9 306.2,122.8 306.5,122.0 306.9,125.2 307.2,120.3 307.6,117.3 307.9,116.3 308.3,119.8 308.6,121.3 309.0,128.2 309.3,129.2 309.7,121.9 310.0,125.5 310.4,123.2 310.8,116.1 311.1,120.0 311.5,119.4 311.8,128.6 312.2,131.8" stroke="#1eb1b1"/>
<path d="M132.5,131.6 132.9,132.0 133.2,135.5 133.6,136.2 133.9,138.8 134.3,139.0 134.7,137.8 135.0,141.0 135.4,140.6 135.7,141.2 136.1,143.9 136.4,147.8 136.8,150.7 137.1,160.0 137.5,166.4 137.8,164.5 138.2,160.2 138.5,157.6 138.9,148.7 139.2,144.0 139.6,140.6 139.9,137.4 140.3,130.5 140.6,128.9 141.0,133.5 141.3,127.9 141.7,118.6 142.0,119.6 142.4,121.3 142.8,116.2 143.1,119.1 143.5,120.5 143.8,115.9 144.2,118.5 144.5,117.2 144.9,121.0 145.2,118.6 145.6,125.4 145.9,119.0 146.3,114.9 146.6,117.9 147.0,114.6 147.3,119.6 147.7,123.9 148.0,128.7 148.4,134.3 148.7,135.1 149.1,140.3 149.4,133.8 149.8,139.9 150.1,136.7 150.5,136.7 150.9,143.6 151.2,143.8 151.6,149.6 151.9,153.5 152.3,157.2 152.6,153.2 153.0,158.1 153.3,167.0 153.7,172.9 154.0,169.4 154.4,153.0 154.7,150.3 155.1,140.8 155.4,142.8 155.8,139.1 156.1,137.0 156.5,133.3 156.8,131.7 157.2,126.2 157.5,122.2 157.9,127.1 158.2,122.6 158.6,121.1 159.0,119.6 159.3,121.2 159.7,115.2 160.0,113.9 160.4,119.8 160.7,117.3 161.1,117.9 161.4,120.8 161.8,122.3 162.1,121.0 162.5,113.7 162.8,118.4 163.2,121.1 163.5,123.5 163.9,123.7 164.2,131.0 164.6,132.6 164.9,140.9 165.3,134.9 165.6,137.8 166.0,138.9 166.4,135.6 166.7,139.6 167.1,143.4 167.4,139.9 167.8,146.2 168.1,156.3 168.5,160.1 168.8,160.5 169.2,161.6 169.5,163.7 169.9,165.8 170.2,164.6 170.6,155.4 170.9,145.2 171.3,141.5 171.6,139.5 172.0,141.3 172.3,134.1 172.7,123.7 173.0,124.3 173.4,121.4 173.7,120.0 174.1,112.0 174.5,107.3 174.8,109.2 175.2,107.2 175.5,107.4 175.9,116.5 176.2,114.6 176.6,116.6 176.9,110.7 177.3,115.0 177.6,114.1 178.0,111.4 178.3,112.2 178.7,120.4 179.0,119.5 179.4,120.9 179.7,122.9 180.1,126.1 180.4,123.6 180.8,127.7 181.1,130.3 181.5,127.0 181.8,129.9 182.2,136.3 182.6,134.0 182.9,139.0 183.3,142.8 183.6,143.9 184.0,143.9 184.3,146.9 184.7,147.9 185.0,150.2 185.4,154.5 185.7,155.4 186.1,155.5 186.4,150.2 186.8,140.8 187.1,137.4 187.5,133.1 187.8,128.4 188.2,125.8 188.5,125.5 188.9,123.3 189.2,120.6 189.6,118.1 189.9,121.5 190.3,118.7 190.7,118.2 191.0,117.3 191.4,117.6 191.7,115.9 192.1,116.9 192.4,119.2 192.8,119.9 193.1,120.2 193.5,121.2 193.8,118.8 194.2,119.2 194.5,117.4 194.9,118.7 195.2,119.4 195.6,120.8 195.9,120.6 196.3,124.6 196.6,123.5 197.0,126.2 197.3,131.1 197.7,134.2 198.0,142.4 198.4,138.0 198.8,142.6 199.1,144.7 199.5,149.1 199.8,150.3 200.2,149.6 200.5,153.6 200.9,151.6 201.2,157.3 201.6,164.9 201.9,164.8 202.3,162.7 202.6,153.6 203.0,143.0 203.3,131.1 203.7,135.9 204.0,135.5 204.4,134.3 204.7,133.1 205.1,130.9 205.4,124.8 205.8,121.3 206.1,119.7 206.5,116.4 206.9,116.1 207.2,118.5 207.6,127.8 207.9,124.8 208.3,122.4 208.6,125.9 209.0,120.2 209.3,117.9 209.7,120.5 210.0,119.1 210.4,123.1 210.7,122.9 211.1,122.1 211.4,122.9 211.8,119.7 212.1,123.3 212.5,125.8 212.8,129.2 213.2,125.9 213.5,132.1 213.9,133.0 214.2,137.5 214.6,137.5 215.0,136.5 215.3,143.8 215.7,147.0 216.0,141.4 216.4,146.7 216.7,148.9 217.1,144.5 217.4,156.2 217.8,165.4 218.1,158.6 218.5,151.5 218.8,143.1 219.2,140.2 219.5,135.2 219.9,137.5 220.2,133.1 220.6,130.3 220.9,129.2 221.3,129.0 221.6,128.2 222.0,124.3 222.3,112.7 222.7,113.0 223.1,113.0 223.4,108.3 223.8,118.2 224.1,113.1 224.5,113.5 224.8,121.4 225.2,119.9 225.5,118.1 225.9,123.4 226.2,117.9 226.6,117.5 226.9,113.2 227.3,116.5 227.6,122.3 228.0,127.2 228.3,132.2 228.7,131.2 229.0,125.1 229.4,129.3 229.7,135.0 230.1,136.6 230.5,140.2 230.8,144.8 231.2,150.1 231.5,149.8 231.9,155.8 232.2,158.1 232.6,156.8 232.9,162.7 233.3,160.2 233.6,162.5 234.0,154.2 234.3,144.6 234.7,141.0 235.0,143.7 235.4,139.6 235.7,133.9 236.1,131.5 236.4,120.1 236.8,131.1 237.1,125.6 237.5,128.6 237.8,122.9 238.2,122.0 238.6,121.9 238.9,117.2 239.3,113.4 239.6,120.5 240.0,118.3 240.3,119.7 240.7,114.8 241.0,117.9 241.4,116.1 241.7,115.0 242.1,116.0 242.4,120.6 242.8,122.0 243.1,116.8 243.5,120.4 243.8,120.6 244.2,123.6 244.5,127.6 244.9,130.5 245.2,127.6 245.6,133.2 245.9,138.0 246.3,137.1 246.7,136.8 247.0,131.6 247.4,139.6 247.7,146.0 248.1,140.6 248.4,142.0 248.8,146.4 249.1,148.9 249.5,148.6 249.8,146.4 250.2,154.6 250.5,156.0 250.9,159.4 251.2,152.3 251.6,145.5 251.9,140.3 252.3,136.7 252.6,136.0 253.0,132.5 253.3,129.0 253.7,129.9 254.0,129.2 254.4,133.5 254.8,129.1 255.1,123.5 255.5,118.3 255.8,113.2 256.2,111.0 256.5,114.4 256.9,111.4 257.2,112.3 257.6,121.4 257.9,122.9 258.3,123.1 258.6,120.4 259.0,119.5 259.3,118.5 259.7,118.1 260.0,121.6 260.4,122.6 260.7,122.8 261.1,126.0 261.4,133.4 261.8,132.7 262.1,130.3 262.5,135.5 262.9,134.8 263.2,136.4 263.6,139.1 263.9,146.4 264.3,150.2 264.6,150.6 265.0,147.1 265.3,148.0 265.7,151.1 266.0,156.9 266.4,160.5 266.7,155.0 267.1,145.9 267.4,141.3 267.8,142.5 268.1,141.3 268.5,130.6 268.8,133.4 269.2,122.9 269.5,120.3 269.9,116.2 270.2,122.9 270.6,122.8 271.0,123.3 271.3,122.2 271.7,122.7 272.0,124.6 272.4,125.7 272.7,120.8 273.1,121.2 273.4,121.6 273.8,123.5 274.1,125.7 274.5,117.9 274.8,118.3 275.2,121.4 275.5,122.6 275.9,126.3 276.2,125.3 276.6,125.2 276.9,125.6 277.3,119.5 277.6,122.5 278.0,126.5 278.3,130.4 278.7,130.3 279.1,132.3 279.4,132.2 279.8,135.8 280.1,137.3 280.5,140.2 280.8,144.7 281.2,142.4 281.5,145.5 281.9,157.2 282.2,158.7 282.6,155.8 282.9,168.6 283.3,166.4 283.6,159.0 284.0,151.9 284.3,151.5 284.7,143.7 285.0,137.9 285.4,133.5 285.7,135.5 286.1,129.1 286.5,126.3 286.8,119.9 287.2,122.6 287.5,119.0 287.9,121.9 288.2,118.9 288.6,121.3 288.9,116.5 289.3,114.7 289.6,114.5 290.0,116.8 290.3,118.8 290.7,116.7 291.0,117.0 291.4,123.1 291.7,126.5 292.1,128.4 292.4,128.1 292.8,129.8 293.1,129.1 293.5,125.5 293.8,127.9 294.2,134.1 294.6,131.0 294.9,133.0 295.3,138.2 295.6,139.9 296.0,139.6 296.3,143.4 296.7,141.7 297.0,149.0 297.4,148.0 297.7,150.7 298.1,156.1 298.4,157.0 298.8,166.0 299.1,155.4 299.5,150.1 299.8,147.4 300.2,140.4 300.5,134.5 300.9,131.3 301.2,130.2 301.6,131.3 301.9,132.3 302.3,131.6 302.7,127.6 303.0,126.9 303.4,130.4 303.7,126.6 304.1,127.2 304.4,130.1 304.8,130.8 305.1,132.5 305.5,130.1 305.8,129.3 306.2,120.6 306.5,116.6 306.9,114.6 307.2,121.4 307.6,121.5 307.9,119.9 308.3,125.1 308.6,129.9 309.0,122.1 309.3,128.2 309.7,123.0 310.0,124.7 310.4,128.3 310.8,131.7 311.1,128.1 311.5,133.2 311.8,135.6 312.2,140.1" stroke="#3666ae"/>
<path d="M132.5,128.5 132.9,128.4 133.2,135.5 133.6,138.6 133.9,136.5 134.3,136.7 134.7,137.5 135.0,142.2 135.4,149.8 135.7,145.5 136.1,153.0 136.4,153.4 136.8,151.8 137.1,155.0 137.5,161.1 137.8,152.9 138.2,148.5 138.5,143.9 138.9,145.8 139.2,135.1 139.6,132.9 139.9,122.6 140.3,124.1 140.6,122.2 141.0,124.4 141.3,119.7 141.7,121.6 142.0,117.7 142.4,116.3 142.8,123.6 143.1,131.5 143.5,134.1 143.8,123.9 144.2,122.4 144.5,119.3 144.9,120.2 145.2,117.3 145.6,125.5 145.9,129.3 146.3,132.8 146.6,131.3 147.0,129.1 147.3,125.4 147.7,126.9 148.0,130.9 148.4,129.0 148.7,131.3 149.1,126.4 149.4,130.0 149.8,135.6 150.1,138.3 150.5,140.3 150.9,147.0 151.2,143.4 151.6,147.0 151.9,144.0 152.3,152.9 152.6,151.7 153.0,148.8 153.3,156.0 153.7,164.1 154.0,168.4 154.4,166.9 154.7,154.3 155.1,149.6 155.4,145.2 155.8,135.4 156.1,135.9 156.5,136.0 156.8,131.2 157.2,125.0 157.5,125.6 157.9,124.8 158.2,120.6 158.6,120.9 159.0,112.9 159.3,116.8 159.7,115.6 160.0,113.5 160.4,118.0 160.7,113.4 161.1,115.9 161.4,113.5 161.8,120.2 162.1,118.9 162.5,123.6 162.8,123.4 163.2,120.9 163.5,123.1 163.9,126.8 164.2,130.3 164.6,135.9 164.9,129.1 165.3,132.6 165.6,135.3 166.0,135.0 166.4,134.6 166.7,135.5 167.1,140.4 167.4,138.7 167.8,137.5 168.1,147.3 168.5,152.8 168.8,158.4 169.2,156.2 169.5,154.0 169.9,160.1 170.2,166.5 170.6,160.1 170.9,155.1 171.3,154.4 171.6,144.7 172.0,144.3 172.3,140.5 172.7,134.4 173.0,131.2 173.4,123.8 173.7,123.2 174.1,120.7 174.5,122.9 174.8,120.1 175.2,124.8 175.5,121.5 175.9,120.3 176.2,120.6 176.6,121.5 176.9,121.6 177.3,126.7 177.6,122.3 178.0,117.8 178.3,118.4 178.7,119.6 179.0,113.7 179.4,115.7 179.7,111.7 180.1,115.0 180.4,112.1 180.8,116.2 181.1,114.4 181.5,122.9 181.8,125.0 182.2,126.8 182.6,130.6 182.9,139.0 183.3,136.8 183.6,134.4 184.0,136.5 184.3,142.9 184.7,150.5 185.0,148.6 185.4,151.3 185.7,154.8 186.1,157.9 186.4,164.8 186.8,159.5 187.1,152.0 187.5,148.0 187.8,144.7 188.2,143.1 188.5,136.5 188.9,132.2 189.2,129.0 189.6,129.7 189.9,129.8 190.3,130.5 190.7,132.4 191.0,125.3 191.4,123.5 191.7,122.2 192.1,124.1 192.4,120.0 192.8,113.0 193.1,113.6 193.5,112.6 193.8,119.9 194.2,118.9 194.5,117.4 194.9,116.0 195.2,115.8 195.6,122.4 195.9,121.8 196.3,122.4 196.6,120.7 197.0,122.5 197.3,123.4 197.7,126.6 198.0,127.9 198.4,129.9 198.8,138.7 199.1,142.8 199.5,141.3 199.8,139.7 200.2,142.0 200.5,142.0 200.9,143.0 201.2,154.1 201.6,147.3 201.9,156.3 202.3,162.2 202.6,169.2 203.0,162.8 203.3,157.0 203.7,151.6 204.0,144.6 204.4,147.0 204.7,139.2 205.1,130.1 205.4,127.5 205.8,125.2 206.1,124.4 206.5,129.7 206.9,128.5 207.2,120.3 207.6,117.4 207.9,122.6 208.3,117.5 208.6,120.6 209.0,117.9 209.3,121.7 209.7,126.7 210.0,122.4 210.4,122.0 210.7,122.9 211.1,121.3 211.4,122.5 211.8,121.8 212.1,121.5 212.5,128.9 212.8,131.8 213.2,131.9 213.5,133.0 213.9,130.7 214.2,135.2 214.6,133.6 215.0,140.6 215.3,143.7 215.7,146.7 216.0,146.6 216.4,148.5 216.7,153.4 217.1,156.3 217.4,159.8 217.8,166.2 218.1,171.1 218.5,169.0 218.8,159.5 219.2,154.6 219.5,140.0 219.9,138.8 220.2,141.7 220.6,136.2 220.9,132.4 221.3,128.9 221.6,129.5 222.0,128.9 222.3,124.1 222.7,127.5 223.1,130.2 223.4,125.9 223.8,125.9 224.1,125.6 224.5,124.4 224.8,118.7 225.2,116.1 225.5,122.5 225.9,121.6 226.2,121.4 226.6,117.6 226.9,113.6 227.3,112.7 227.6,115.4 228.0,116.4 228.3,123.7 228.7,116.3 229.0,120.3 229.4,120.0 229.7,120.4 230.1,120.5 230.5,119.1 230.8,124.7 231.2,129.3 231.5,131.1 231.9,134.1 232.2,136.7 232.6,133.3 232.9,137.1 233.3,135.5 233.6,138.7 234.0,144.7 234.3,147.6 234.7,153.8 235.0,156.8 235.4,153.1 235.7,151.8 236.1,140.4 236.4,132.7 236.8,130.8 237.1,129.1 237.5,126.1 237.8,122.9 238.2,124.6 238.6,118.2 238.9,120.0 239.3,119.7 239.6,114.5 240.0,120.8 240.3,119.3 240.7,114.3 241.0,115.4 241.4,117.1 241.7,120.4 242.1,125.9 242.4,130.4 242.8,124.4 243.1,123.4 243.5,123.6 243.8,120.0 244.2,118.2 244.5,122.4 244.9,125.3 245.2,127.2 245.6,127.8 245.9,129.6 246.3,134.8 246.7,135.4 247.0,133.6 247.4,131.5 247.7,131.7 248.1,128.9 248.4,131.9 248.8,135.4 249.1,140.0 249.5,150.3 249.8,154.5 250.2,157.5 250.5,161.8 250.9,165.0 251.2,157.3 251.6,150.4 251.9,144.5 252.3,134.9 252.6,135.0 253.0,136.4 253.3,135.8 253.7,129.6 254.0,124.3 254.4,130.0 254.8,125.1 255.1,123.5 255.5,116.2 255.8,112.2 256.2,113.7 256.5,114.0 256.9,117.1 257.2,122.6 257.6,122.3 257.9,118.3 258.3,116.4 258.6,119.9 259.0,118.1 259.3,117.6 259.7,120.9 260.0,120.5 260.4,122.0 260.7,118.9 261.1,120.5 261.4,126.7 261.8,125.8 262.1,132.4 262.5,136.8 262.9,133.6 263.2,140.1 263.6,139.3 263.9,147.6 264.3,150.6 264.6,151.2 265.0,148.9 265.3,154.9 265.7,154.1 266.0,154.0 266.4,157.5 266.7,165.4 267.1,161.0 267.4,155.1 267.8,148.6 268.1,147.0 268.5,148.2 268.8,142.1 269.2,135.2 269.5,131.4 269.9,136.2 270.2,131.7 270.6,129.9 271.0,126.6 271.3,128.3 271.7,128.9 272.0,123.6 272.4,127.0 272.7,123.4 273.1,117.9 273.4,117.3 273.8,124.6 274.1,121.7 274.5,121.1 274.8,115.9 275.2,114.6 275.5,121.3 275.9,118.5 276.2,118.3 276.6,119.3 276.9,119.9 277.3,120.1 277.6,124.0 278.0,121.4 278.3,122.6 278.7,125.7 279.1,131.4 279.4,131.6 279.8,134.2 280.1,133.0 280.5,135.6 280.8,134.0 281.2,139.6 281.5,140.8 281.9,145.5 282.2,148.1 282.6,149.6 282.9,153.1 283.3,155.8 283.6,158.1 284.0,160.1 284.3,159.3 284.7,151.7 285.0,147.7 285.4,148.3 285.7,144.0 286.1,137.6 286.5,134.9 286.8,131.3 287.2,124.2 287.5,127.7 287.9,127.9 288.2,124.7 288.6,121.5 288.9,120.1 289.3,119.4 289.6,119.9 290.0,118.2 290.3,118.0 290.7,121.8 291.0,125.7 291.4,122.4 291.7,120.4 292.1,112.3 292.4,112.1 292.8,118.4 293.1,118.9 293.5,121.0 293.8,122.5 294.2,122.6 294.6,123.7 294.9,126.9 295.3,127.0 295.6,122.0 296.0,129.8 296.3,137.0 296.7,135.5 297.0,132.3 297.4,134.5 297.7,139.3 298.1,143.6 298.4,147.6 298.8,149.8 299.1,151.0 299.5,152.2 299.8,151.3 300.2,152.0 300.5,147.2 300.9,147.0 301.2,151.2 301.6,145.1 301.9,140.3 302.3,135.1 302.7,134.5 303.0,134.1 303.4,130.1 303.7,133.6 304.1,131.8 304.4,124.9 304.8,124.3 305.1,123.5 305.5,121.8 305.8,126.6 306.2,125.4 306.5,126.8 306.9,123.1 307.2,122.3 307.6,124.0 307.9,125.1 308.3,128.0 308.6,129.2 309.0,129.6 309.3,128.2 309.7,130.1 310.0,128.9 310.4,134.1 310.8,136.5 311.1,134.4 311.5,139.7 311.8,141.4 312.2,140.4" stroke="#ea4e54"/>
</g>
<rect x="52.1" y="4.5" width="282.7" height="295.9" fill="none" stroke="#000" stroke-width="1.7"/>
<path d="M52.1,278.48h7M334.8,278.48h-7M52.1,223.69h7M334.8,223.69h-7M52.1,168.89h7M334.8,168.89h-7M52.1,114.09h7M334.8,114.09h-7M52.1,59.30h7M334.8,59.30h-7M122.78,300.4v-7M122.78,4.5v7M193.45,300.4v-7M193.45,4.5v7M264.12,300.4v-7M264.12,4.5v7" stroke="#000" stroke-width="1.5" fill="none"/>
<text x="44.6" y="282.98" font-size="13.3" text-anchor="end" textLength="18.15" lengthAdjust="spacingAndGlyphs">500</text>
<text x="44.6" y="228.19" font-size="13.3" text-anchor="end" textLength="24.20" lengthAdjust="spacingAndGlyphs">1000</text>
<text x="44.6" y="173.39" font-size="13.3" text-anchor="end" textLength="24.20" lengthAdjust="spacingAndGlyphs">1500</text>
<text x="44.6" y="118.59" font-size="13.3" text-anchor="end" textLength="24.20" lengthAdjust="spacingAndGlyphs">2000</text>
<text x="44.6" y="63.80" font-size="13.3" text-anchor="end" textLength="24.20" lengthAdjust="spacingAndGlyphs">2500</text>
<text x="44.6" y="9.00" font-size="13.3" text-anchor="end" textLength="24.20" lengthAdjust="spacingAndGlyphs">3000</text>
<text x="52.10" y="316.5" font-size="13.3" text-anchor="middle" textLength="15.1" lengthAdjust="spacingAndGlyphs">0.0</text>
<text x="122.78" y="316.5" font-size="13.3" text-anchor="middle" textLength="15.1" lengthAdjust="spacingAndGlyphs">1.0</text>
<text x="193.45" y="316.5" font-size="13.3" text-anchor="middle" textLength="15.1" lengthAdjust="spacingAndGlyphs">2.0</text>
<text x="264.12" y="316.5" font-size="13.3" text-anchor="middle" textLength="15.1" lengthAdjust="spacingAndGlyphs">3.0</text>
<text x="334.80" y="316.5" font-size="13.3" text-anchor="middle" textLength="15.1" lengthAdjust="spacingAndGlyphs">4.0</text>
<text transform="translate(10.1,152.5) rotate(-90)" font-size="15" text-anchor="middle" textLength="30.6" lengthAdjust="spacingAndGlyphs"><tspan font-style="italic">T</tspan> [K]</text>
<text x="193.3" y="335.2" font-size="14.2" text-anchor="middle"><tspan font-style="italic">t</tspan> [s]</text>
<rect x="134.3" y="88.6" width="176.09999999999997" height="110.80000000000001" fill="none" stroke="#4a4a4a" stroke-width="1.15"/>
<path d="M134.3,171.70h2.8M310.4,171.70h-2.8M134.3,144.00h2.8M310.4,144.00h-2.8M134.3,116.30h2.8M310.4,116.30h-2.8M169.52,199.4v-2.6M169.52,88.6v2.6M204.74,199.4v-2.6M204.74,88.6v2.6M239.96,199.4v-2.6M239.96,88.6v2.6M275.18,199.4v-2.6M275.18,88.6v2.6" stroke="#333" stroke-width="1" fill="none"/>
<text x="130.2" y="201.80" font-size="7" text-anchor="end" style="stroke-width:0.18px">2400</text>
<text x="130.2" y="174.10" font-size="7" text-anchor="end" style="stroke-width:0.18px">2500</text>
<text x="130.2" y="146.40" font-size="7" text-anchor="end" style="stroke-width:0.18px">2600</text>
<text x="130.2" y="118.70" font-size="7" text-anchor="end" style="stroke-width:0.18px">2700</text>
<text x="130.2" y="91.00" font-size="7" text-anchor="end" style="stroke-width:0.18px">2800</text>
<text x="134.30" y="206.8" font-size="7.4" text-anchor="middle" textLength="8.6" lengthAdjust="spacingAndGlyphs" style="stroke-width:0.18px">3.0</text>
<text x="169.52" y="206.8" font-size="7.4" text-anchor="middle" textLength="8.6" lengthAdjust="spacingAndGlyphs" style="stroke-width:0.18px">3.1</text>
<text x="204.74" y="206.8" font-size="7.4" text-anchor="middle" textLength="8.6" lengthAdjust="spacingAndGlyphs" style="stroke-width:0.18px">3.2</text>
<text x="239.96" y="206.8" font-size="7.4" text-anchor="middle" textLength="8.6" lengthAdjust="spacingAndGlyphs" style="stroke-width:0.18px">3.3</text>
<text x="275.18" y="206.8" font-size="7.4" text-anchor="middle" textLength="8.6" lengthAdjust="spacingAndGlyphs" style="stroke-width:0.18px">3.4</text>
<text x="310.40" y="206.8" font-size="7.4" text-anchor="middle" textLength="8.6" lengthAdjust="spacingAndGlyphs" style="stroke-width:0.18px">3.5</text>
<text transform="translate(113.0,143.6) rotate(-90)" font-size="7.8" text-anchor="middle" style="stroke-width:0.1px"><tspan font-style="italic">T</tspan> [K]</text>
<text x="222.3" y="213.5" font-size="7.8" text-anchor="middle" style="stroke-width:0.1px"><tspan font-style="italic">t</tspan> [s]</text>
<rect x="263.7" y="26.4" width="36.4" height="38.2" fill="none" stroke="#555" stroke-width="1.1"/>
<path d="M280.5,65 L272.4,75.7" stroke="#222" stroke-width="0.9"/>
<path d="M267.0,82.9 L271.0,74.7 L272.6,76.0 L273.8,76.7 Z" fill="#111"/>
<text x="68.9" y="239.9" font-size="12.2" style="stroke-width:0.12px" textLength="100.2" lengthAdjust="spacingAndGlyphs">Minimum cell spacing:</text>
<path d="M69.2,253.10H117" stroke="#1eb1b1" stroke-width="1.75"/>
<text x="125" y="256.50" font-size="12" style="stroke-width:0.12px" textLength="27.2" lengthAdjust="spacingAndGlyphs">60 µm</text>
<path d="M69.2,265.95H117" stroke="#3666ae" stroke-width="1.75"/>
<text x="125" y="269.35" font-size="12" style="stroke-width:0.12px" textLength="27.2" lengthAdjust="spacingAndGlyphs">10 µm</text>
<path d="M69.2,278.80H117" stroke="#ea4e54" stroke-width="1.75"/>
<text x="125" y="282.20" font-size="12" style="stroke-width:0.12px" textLength="27.2" lengthAdjust="spacingAndGlyphs">20 µm</text>
</svg></body></html>
